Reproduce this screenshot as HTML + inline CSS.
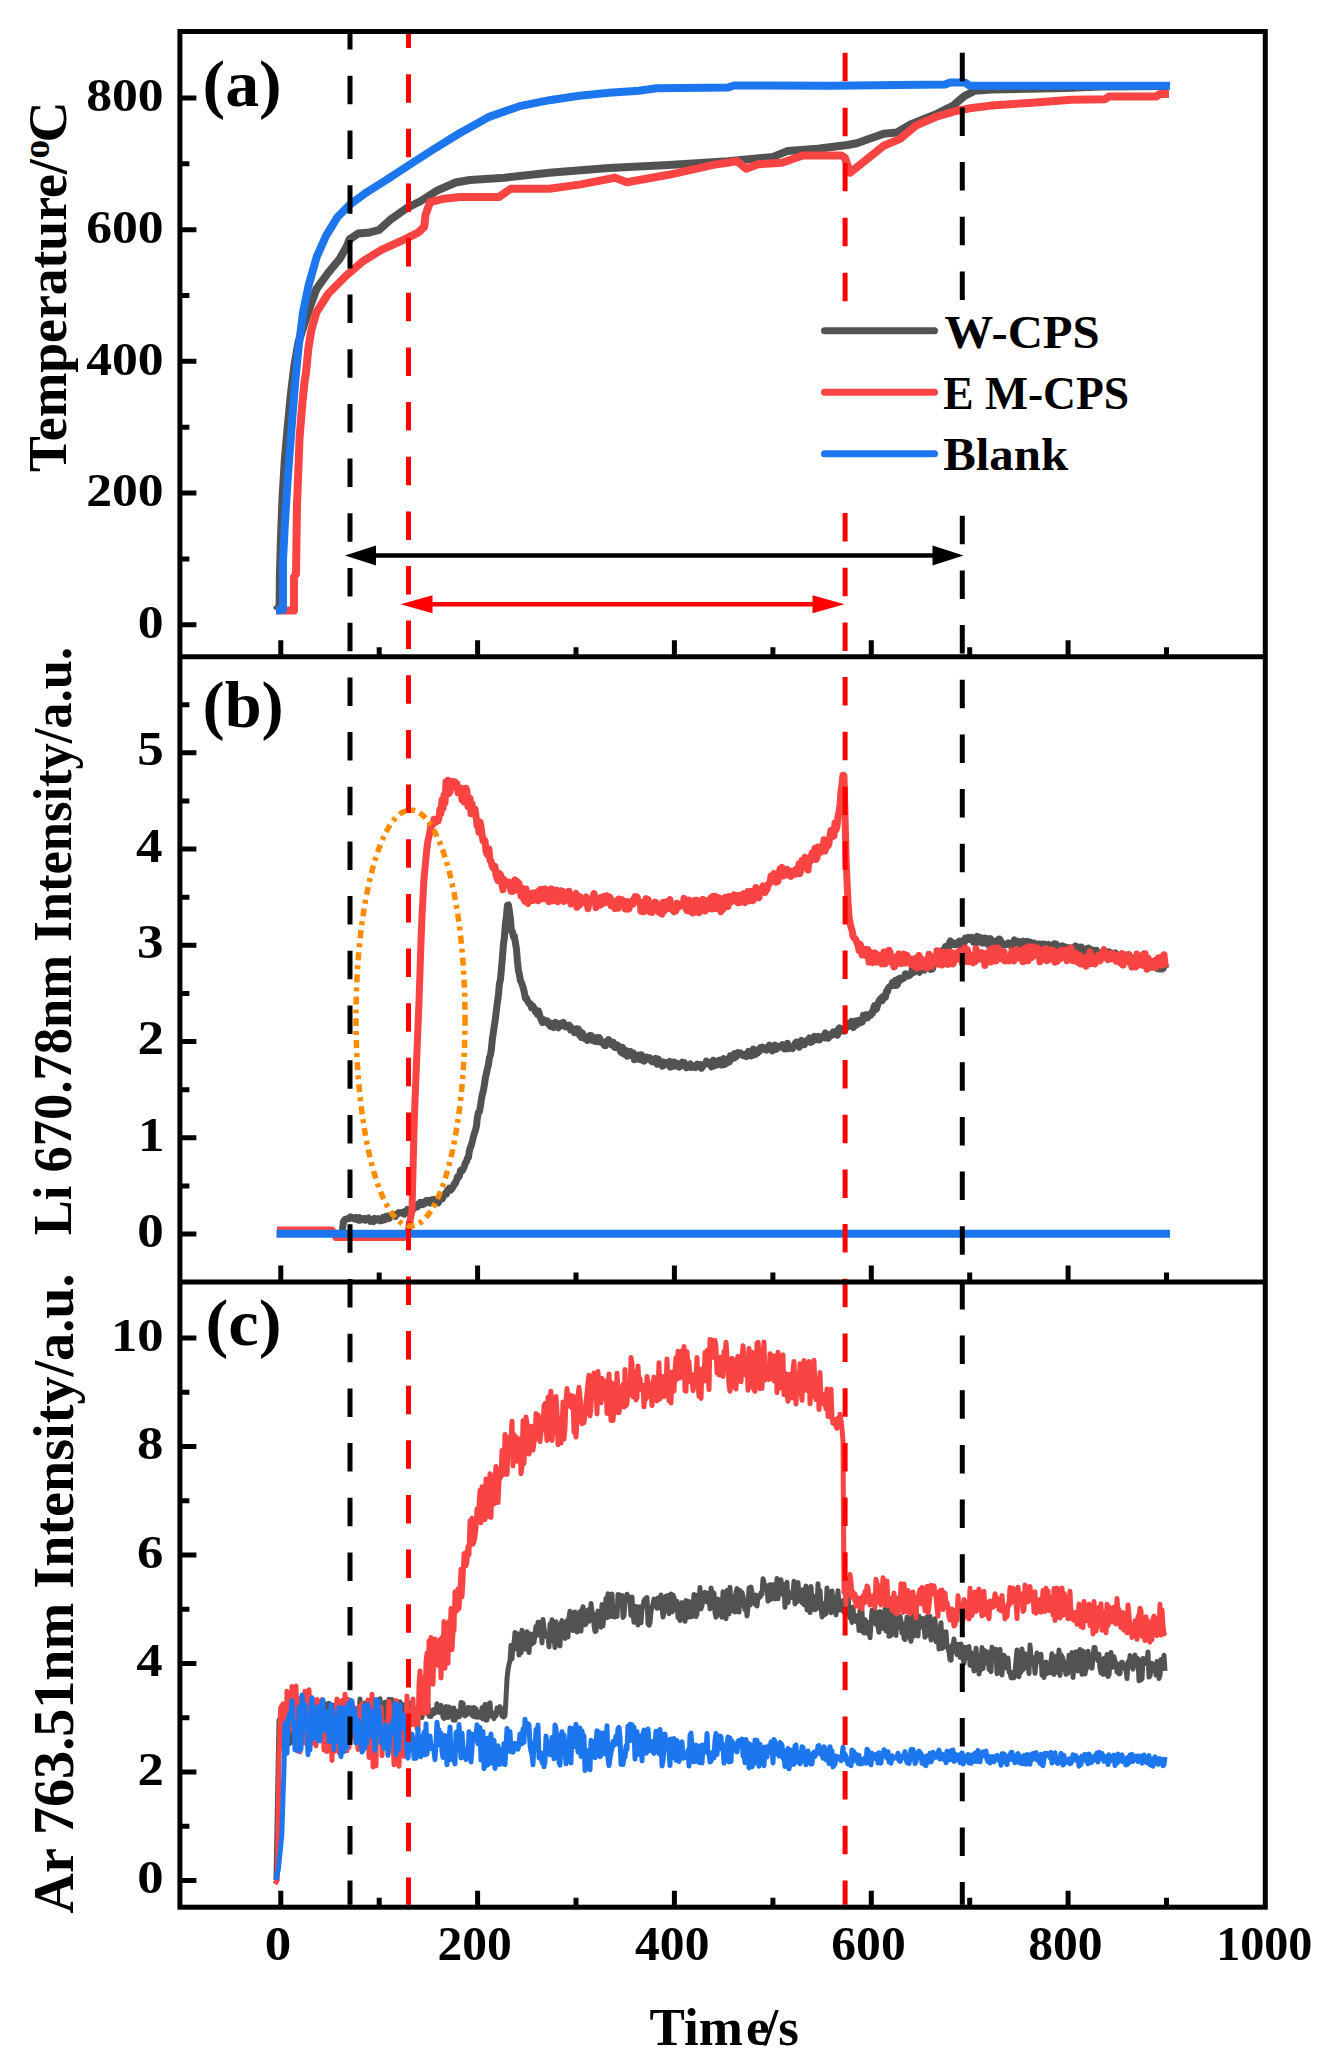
<!DOCTYPE html><html><head><meta charset="utf-8"><style>html,body{margin:0;padding:0;background:#fff}svg{display:block}</style></head><body>
<svg width="1342" height="2070" viewBox="0 0 1342 2070">
<rect width="1342" height="2070" fill="#fff"/>
<defs><clipPath id="ca"><rect x="182" y="34" width="1081" height="620"/></clipPath><clipPath id="cb"><rect x="182" y="659" width="1081" height="620"/></clipPath><clipPath id="cc"><rect x="182" y="1284" width="1081" height="621"/></clipPath></defs>
<g clip-path="url(#ca)">
<path d="M276.0 610.5 L279.6 606.0 L279.9 576.0 L280.9 540.0 L282.4 500.0 L284.8 460.0 L287.6 428.0 L290.8 395.0 L294.3 366.0 L298.5 342.0 L304.0 325.0 L310.6 305.0 L316.4 289.2 L328.0 273.0 L339.6 259.0 L347.0 246.0 L349.5 239.3 L358.2 233.5 L369.8 232.4 L379.0 230.0 L390.6 219.6 L406.9 208.0 L420.8 201.0 L437.0 190.6 L455.6 182.5 L470.0 180.0 L504.7 177.7 L549.4 172.7 L609.0 167.9 L668.6 164.9 L728.3 161.3 L773.0 156.9 L787.9 150.9 L817.7 148.8 L847.5 145.0 L856.8 143.2 L883.6 133.8 L897.0 132.4 L910.5 124.4 L937.3 113.6 L953.4 105.6 L964.1 96.2 L974.8 90.8 L991.0 89.5 L1066.0 88.0 L1100.0 86.5 L1168.0 86.0" fill="none" stroke="#525252" stroke-width="8" stroke-linejoin="round"/>
<path d="M276.0 610.5 L294.0 610.5 L294.0 577.0 L296.0 574.0 L297.0 505.0 L299.6 437.0 L302.5 402.0 L304.5 382.0 L306.0 373.0 L308.4 348.0 L311.4 330.0 L316.4 312.4 L328.0 294.0 L346.6 275.3 L362.8 261.4 L381.4 249.8 L404.6 239.3 L418.5 232.4 L424.3 226.6 L425.5 215.0 L430.0 202.2 L444.0 198.7 L460.0 197.1 L498.7 197.1 L510.7 188.8 L549.4 188.8 L579.2 184.6 L615.0 177.7 L626.9 182.2 L668.6 174.8 L713.4 164.9 L737.2 161.3 L746.1 168.8 L758.0 164.3 L781.9 162.8 L802.8 155.4 L841.5 155.4 L845.0 158.0 L850.1 172.7 L870.2 156.6 L883.6 145.8 L899.7 139.1 L915.8 125.7 L937.3 116.3 L956.0 111.0 L969.5 108.3 L991.0 105.6 L1028.5 102.9 L1071.4 99.7 L1105.0 99.2 L1109.0 96.5 L1156.0 96.5 L1160.0 94.0 L1169.0 94.0" fill="none" stroke="#fa4444" stroke-width="8" stroke-linejoin="round"/>
<path d="M276.0 610.5 L283.0 609.7 L283.0 560.0 L285.0 521.0 L288.0 474.8 L291.5 428.4 L295.2 382.0 L298.6 347.2 L303.0 312.4 L308.8 284.6 L316.8 256.7 L326.0 235.8 L337.3 217.3 L350.0 204.5 L367.4 191.8 L386.0 180.2 L409.2 165.0 L432.4 150.0 L460.0 133.0 L489.8 116.6 L519.6 106.2 L549.4 100.2 L579.2 95.8 L609.0 92.8 L638.8 90.7 L656.7 88.3 L728.3 87.4 L734.2 85.5 L830.0 85.8 L945.0 84.5 L950.0 82.5 L965.0 82.5 L970.0 85.8 L1170.0 85.8" fill="none" stroke="#1c76ee" stroke-width="8" stroke-linejoin="round"/>
</g>
<g clip-path="url(#cb)">
<path d="M277.0 1233.6 L342.0 1233.6 L343.4 1222.0 L343.4 1223.0 L344.4 1220.2 L345.4 1219.2 L346.4 1219.1 L347.4 1218.8 L348.4 1218.2 L349.4 1218.6 L350.4 1216.8 L351.4 1217.6 L352.4 1217.6 L353.4 1218.4 L354.4 1218.8 L355.4 1219.2 L356.4 1217.5 L357.4 1218.8 L358.4 1220.0 L359.4 1217.6 L360.4 1220.1 L361.4 1219.9 L362.4 1218.9 L363.4 1219.1 L364.4 1218.4 L365.4 1220.2 L366.4 1219.4 L367.4 1218.7 L368.4 1218.0 L369.4 1219.2 L370.4 1221.4 L371.4 1220.6 L372.4 1220.5 L373.4 1221.6 L374.4 1218.4 L375.4 1220.6 L376.4 1219.1 L377.4 1219.7 L378.4 1218.6 L379.4 1219.0 L380.4 1220.8 L381.4 1220.0 L382.4 1220.3 L383.4 1217.3 L384.4 1217.9 L385.4 1219.5 L386.4 1216.4 L387.4 1216.6 L388.4 1215.9 L389.4 1218.3 L390.4 1215.8 L391.4 1216.2 L392.4 1214.3 L393.4 1214.4 L394.4 1215.7 L395.4 1216.4 L396.4 1214.5 L397.4 1214.1 L398.4 1212.8 L399.4 1212.8 L400.4 1212.7 L401.4 1212.5 L402.4 1213.4 L403.4 1212.2 L404.4 1214.1 L405.4 1211.0 L406.4 1212.8 L407.4 1209.4 L408.4 1210.6 L409.4 1210.2 L410.4 1210.2 L411.4 1208.7 L412.4 1208.7 L413.4 1209.2 L414.4 1206.2 L415.4 1207.1 L416.4 1206.8 L417.4 1207.0 L418.4 1204.0 L419.4 1204.4 L420.4 1202.3 L421.4 1204.4 L422.4 1204.7 L423.4 1202.3 L424.4 1203.8 L425.4 1203.1 L426.4 1200.5 L427.4 1202.3 L428.4 1200.4 L429.4 1201.3 L430.4 1203.0 L431.4 1200.1 L432.4 1201.7 L433.4 1199.5 L434.4 1199.5 L435.4 1202.9 L436.4 1199.4 L437.4 1199.7 L438.4 1202.8 L439.4 1200.2 L440.4 1199.8 L441.4 1198.3 L442.4 1198.6 L443.4 1195.4 L444.4 1194.7 L445.4 1193.3 L446.4 1194.1 L447.4 1190.3 L448.4 1190.7 L449.4 1188.2 L450.4 1190.3 L451.4 1189.3 L452.4 1187.9 L453.4 1186.4 L454.4 1183.4 L455.4 1183.5 L456.4 1180.6 L457.4 1176.8 L458.4 1177.4 L459.4 1176.1 L460.4 1170.8 L461.4 1169.8 L462.4 1170.5 L463.4 1168.8 L464.4 1166.3 L465.4 1162.8 L466.4 1161.7 L467.4 1158.1 L468.4 1157.5 L469.4 1150.6 L470.4 1147.4 L471.4 1144.9 L472.4 1141.0 L473.4 1136.7 L474.4 1133.3 L475.4 1130.4 L476.4 1126.3 L477.4 1117.6 L478.4 1112.3 L479.4 1111.6 L480.4 1106.6 L481.4 1099.1 L482.4 1094.3 L483.4 1090.8 L484.4 1084.5 L485.4 1077.8 L486.4 1073.4 L487.4 1068.6 L488.4 1064.9 L489.4 1057.7 L490.4 1055.2 L491.4 1049.1 L492.4 1038.6 L493.4 1032.2 L494.4 1025.3 L495.4 1018.8 L496.4 1010.3 L497.4 1002.1 L498.4 995.7 L499.4 983.9 L500.4 979.9 L501.4 969.4 L502.4 957.9 L503.4 944.7 L504.4 937.3 L505.4 924.0 L506.4 916.5 L507.4 905.5 L508.4 905.0 L509.4 911.3 L510.4 918.6 L511.4 931.1 L512.4 931.5 L513.4 936.5 L514.4 936.3 L515.4 942.9 L516.4 948.3 L517.4 960.8 L518.4 970.5 L519.4 974.4 L520.4 980.8 L521.4 982.2 L522.4 985.4 L523.4 988.3 L524.4 992.8 L525.4 998.0 L526.4 998.0 L527.4 1000.8 L528.4 1002.4 L529.4 1004.1 L530.4 1003.8 L531.4 1007.6 L532.4 1005.7 L533.4 1006.9 L534.4 1008.7 L535.4 1011.8 L536.4 1011.5 L537.4 1014.3 L538.4 1010.9 L539.4 1014.0 L540.4 1017.8 L541.4 1020.0 L542.4 1022.5 L543.4 1019.5 L544.4 1020.5 L545.4 1021.9 L546.4 1022.5 L547.4 1020.9 L548.4 1023.2 L549.4 1025.3 L550.4 1026.3 L551.4 1023.3 L552.4 1026.3 L553.4 1027.5 L554.4 1023.6 L555.4 1022.4 L556.4 1023.1 L557.4 1026.4 L558.4 1027.7 L559.4 1023.9 L560.4 1023.4 L561.4 1025.8 L562.4 1024.0 L563.4 1022.4 L564.4 1024.1 L565.4 1026.8 L566.4 1026.1 L567.4 1025.7 L568.4 1026.5 L569.4 1025.2 L570.4 1029.9 L571.4 1027.7 L572.4 1030.4 L573.4 1030.0 L574.4 1032.7 L575.4 1032.6 L576.4 1028.7 L577.4 1031.5 L578.4 1029.1 L579.4 1034.8 L580.4 1031.8 L581.4 1037.5 L582.4 1033.0 L583.4 1035.6 L584.4 1036.2 L585.4 1039.1 L586.4 1038.0 L587.4 1040.4 L588.4 1037.0 L589.4 1035.7 L590.4 1036.5 L591.4 1035.7 L592.4 1040.4 L593.4 1040.5 L594.4 1041.1 L595.4 1041.5 L596.4 1037.4 L597.4 1037.4 L598.4 1041.8 L599.4 1037.6 L600.4 1040.3 L601.4 1042.3 L602.4 1043.1 L603.4 1043.0 L604.4 1045.4 L605.4 1045.7 L606.4 1041.3 L607.4 1041.5 L608.4 1039.6 L609.4 1040.4 L610.4 1042.9 L611.4 1044.9 L612.4 1042.7 L613.4 1042.4 L614.4 1047.0 L615.4 1047.5 L616.4 1046.9 L617.4 1045.0 L618.4 1046.0 L619.4 1047.0 L620.4 1051.6 L621.4 1052.6 L622.4 1047.2 L623.4 1053.8 L624.4 1054.2 L625.4 1054.0 L626.4 1050.7 L627.4 1056.2 L628.4 1055.7 L629.4 1051.7 L630.4 1051.5 L631.4 1054.3 L632.4 1056.2 L633.4 1052.9 L634.4 1059.7 L635.4 1058.3 L636.4 1057.7 L637.4 1057.7 L638.4 1055.1 L639.4 1059.6 L640.4 1059.6 L641.4 1054.7 L642.4 1060.1 L643.4 1057.1 L644.4 1061.1 L645.4 1057.5 L646.4 1057.1 L647.4 1057.5 L648.4 1058.9 L649.4 1057.6 L650.4 1058.7 L651.4 1061.2 L652.4 1061.8 L653.4 1061.9 L654.4 1059.0 L655.4 1058.3 L656.4 1059.1 L657.4 1064.3 L658.4 1059.1 L659.4 1063.3 L660.4 1062.9 L661.4 1063.6 L662.4 1066.2 L663.4 1061.9 L664.4 1065.2 L665.4 1064.3 L666.4 1063.3 L667.4 1063.5 L668.4 1062.2 L669.4 1061.5 L670.4 1067.1 L671.4 1065.2 L672.4 1062.0 L673.4 1066.3 L674.4 1062.1 L675.4 1065.3 L676.4 1064.8 L677.4 1066.2 L678.4 1063.5 L679.4 1067.2 L680.4 1065.8 L681.4 1064.2 L682.4 1062.2 L683.4 1063.4 L684.4 1062.8 L685.4 1065.7 L686.4 1067.9 L687.4 1067.4 L688.4 1066.6 L689.4 1065.1 L690.4 1064.0 L691.4 1067.5 L692.4 1066.5 L693.4 1066.4 L694.4 1065.8 L695.4 1067.5 L696.4 1066.2 L697.4 1064.1 L698.4 1064.9 L699.4 1064.6 L700.4 1064.6 L701.4 1068.3 L702.4 1066.7 L703.4 1065.7 L704.4 1064.2 L705.4 1064.1 L706.4 1061.1 L707.4 1063.3 L708.4 1064.0 L709.4 1062.4 L710.4 1063.5 L711.4 1066.8 L712.4 1066.1 L713.4 1060.2 L714.4 1065.8 L715.4 1064.8 L716.4 1064.9 L717.4 1064.8 L718.4 1060.7 L719.4 1060.2 L720.4 1063.6 L721.4 1064.9 L722.4 1059.6 L723.4 1058.6 L724.4 1064.6 L725.4 1064.0 L726.4 1059.3 L727.4 1062.8 L728.4 1058.8 L729.4 1062.0 L730.4 1055.8 L731.4 1059.3 L732.4 1056.2 L733.4 1058.4 L734.4 1053.7 L735.4 1057.4 L736.4 1053.4 L737.4 1055.5 L738.4 1052.7 L739.4 1054.7 L740.4 1052.9 L741.4 1053.8 L742.4 1054.6 L743.4 1055.7 L744.4 1055.4 L745.4 1054.5 L746.4 1056.6 L747.4 1053.5 L748.4 1051.5 L749.4 1055.1 L750.4 1052.4 L751.4 1056.0 L752.4 1051.9 L753.4 1049.0 L754.4 1050.8 L755.4 1054.6 L756.4 1051.0 L757.4 1053.1 L758.4 1049.9 L759.4 1051.3 L760.4 1047.5 L761.4 1048.2 L762.4 1047.3 L763.4 1049.2 L764.4 1048.4 L765.4 1049.8 L766.4 1050.2 L767.4 1047.1 L768.4 1047.1 L769.4 1045.2 L770.4 1045.6 L771.4 1047.4 L772.4 1051.0 L773.4 1046.3 L774.4 1047.8 L775.4 1045.2 L776.4 1049.2 L777.4 1048.2 L778.4 1047.2 L779.4 1047.2 L780.4 1046.1 L781.4 1046.6 L782.4 1044.7 L783.4 1047.9 L784.4 1049.1 L785.4 1049.1 L786.4 1045.5 L787.4 1043.3 L788.4 1048.6 L789.4 1046.5 L790.4 1047.1 L791.4 1047.8 L792.4 1048.6 L793.4 1046.2 L794.4 1045.4 L795.4 1043.0 L796.4 1042.0 L797.4 1042.5 L798.4 1042.1 L799.4 1047.2 L800.4 1044.3 L801.4 1040.3 L802.4 1041.9 L803.4 1042.2 L804.4 1044.7 L805.4 1041.5 L806.4 1042.1 L807.4 1039.9 L808.4 1040.0 L809.4 1038.0 L810.4 1042.5 L811.4 1040.2 L812.4 1041.5 L813.4 1040.0 L814.4 1036.3 L815.4 1037.1 L816.4 1037.0 L817.4 1039.7 L818.4 1036.3 L819.4 1040.0 L820.4 1038.7 L821.4 1037.8 L822.4 1036.5 L823.4 1037.4 L824.4 1034.8 L825.4 1033.0 L826.4 1038.0 L827.4 1035.0 L828.4 1038.1 L829.4 1036.3 L830.4 1034.9 L831.4 1033.7 L832.4 1035.2 L833.4 1031.9 L834.4 1032.2 L835.4 1031.6 L836.4 1034.6 L837.4 1035.1 L838.4 1028.9 L839.4 1027.9 L840.4 1029.5 L841.4 1031.1 L842.4 1028.8 L843.4 1030.3 L844.4 1031.1 L845.4 1028.4 L846.4 1027.8 L847.4 1023.6 L848.4 1026.3 L849.4 1026.2 L850.4 1023.0 L851.4 1021.5 L852.4 1025.7 L853.4 1027.5 L854.4 1024.8 L855.4 1021.2 L856.4 1025.1 L857.4 1020.8 L858.4 1020.3 L859.4 1022.9 L860.4 1022.2 L861.4 1022.5 L862.4 1021.8 L863.4 1015.4 L864.4 1016.3 L865.4 1017.8 L866.4 1014.5 L867.4 1017.9 L868.4 1016.2 L869.4 1015.2 L870.4 1015.5 L871.4 1012.8 L872.4 1013.5 L873.4 1009.0 L874.4 1005.7 L875.4 1007.2 L876.4 1009.3 L877.4 1006.0 L878.4 1002.8 L879.4 1000.0 L880.4 999.1 L881.4 997.8 L882.4 1000.6 L883.4 996.3 L884.4 995.4 L885.4 997.4 L886.4 991.4 L887.4 991.9 L888.4 988.2 L889.4 986.8 L890.4 986.3 L891.4 985.7 L892.4 982.7 L893.4 985.5 L894.4 984.2 L895.4 980.4 L896.4 985.5 L897.4 984.6 L898.4 978.8 L899.4 978.3 L900.4 980.4 L901.4 977.9 L902.4 977.7 L903.4 978.4 L904.4 977.7 L905.4 973.7 L906.4 974.6 L907.4 976.1 L908.4 976.0 L909.4 975.4 L910.4 974.6 L911.4 973.2 L912.4 968.4 L913.4 970.3 L914.4 972.2 L915.4 968.5 L916.4 966.8 L917.4 970.0 L918.4 970.9 L919.4 972.2 L920.4 970.1 L921.4 967.9 L922.4 964.8 L923.4 968.9 L924.4 970.1 L925.4 967.5 L926.4 967.8 L927.4 964.6 L928.4 966.1 L929.4 967.9 L930.4 969.3 L931.4 966.1 L932.4 969.0 L933.4 965.9 L934.4 964.2 L935.4 960.2 L936.4 962.1 L937.4 956.8 L938.4 957.2 L939.4 959.1 L940.4 957.7 L941.4 957.0 L942.4 950.6 L943.4 954.1 L944.4 949.9 L945.4 946.6 L946.4 950.3 L947.4 949.5 L948.4 948.4 L949.4 943.0 L950.4 940.9 L951.4 944.5 L952.4 942.9 L953.4 944.4 L954.4 943.1 L955.4 944.8 L956.4 943.2 L957.4 943.8 L958.4 944.5 L959.4 941.2 L960.4 944.5 L961.4 941.0 L962.4 944.7 L963.4 941.8 L964.4 942.4 L965.4 938.0 L966.4 940.2 L967.4 939.5 L968.4 937.5 L969.4 939.3 L970.4 938.7 L971.4 937.5 L972.4 938.3 L973.4 942.2 L974.4 937.7 L975.4 941.0 L976.4 943.0 L977.4 936.4 L978.4 941.2 L979.4 937.3 L980.4 937.7 L981.4 938.8 L982.4 943.1 L983.4 943.1 L984.4 938.0 L985.4 942.9 L986.4 938.4 L987.4 940.4 L988.4 944.7 L989.4 943.9 L990.4 938.6 L991.4 941.6 L992.4 940.6 L993.4 942.2 L994.4 943.4 L995.4 941.6 L996.4 944.3 L997.4 944.3 L998.4 939.5 L999.4 939.0 L1000.4 940.2 L1001.4 942.5 L1002.4 944.0 L1003.4 945.2 L1004.4 944.6 L1005.4 944.2 L1006.4 944.0 L1007.4 944.5 L1008.4 943.0 L1009.4 944.6 L1010.4 945.7 L1011.4 945.6 L1012.4 944.6 L1013.4 944.1 L1014.4 939.9 L1015.4 941.5 L1016.4 942.6 L1017.4 941.8 L1018.4 941.3 L1019.4 942.8 L1020.4 946.1 L1021.4 942.5 L1022.4 947.3 L1023.4 941.1 L1024.4 944.0 L1025.4 946.1 L1026.4 946.3 L1027.4 941.4 L1028.4 942.1 L1029.4 941.9 L1030.4 945.5 L1031.4 942.5 L1032.4 944.8 L1033.4 944.2 L1034.4 943.3 L1035.4 945.3 L1036.4 946.0 L1037.4 947.1 L1038.4 945.7 L1039.4 944.0 L1040.4 945.9 L1041.4 948.5 L1042.4 944.0 L1043.4 947.7 L1044.4 944.1 L1045.4 949.8 L1046.4 945.2 L1047.4 947.4 L1048.4 944.3 L1049.4 947.3 L1050.4 948.9 L1051.4 949.8 L1052.4 948.9 L1053.4 949.7 L1054.4 943.7 L1055.4 949.2 L1056.4 944.1 L1057.4 949.7 L1058.4 950.9 L1059.4 949.3 L1060.4 948.8 L1061.4 950.0 L1062.4 945.9 L1063.4 951.5 L1064.4 946.6 L1065.4 947.4 L1066.4 947.4 L1067.4 950.1 L1068.4 947.9 L1069.4 947.6 L1070.4 948.2 L1071.4 949.8 L1072.4 950.6 L1073.4 950.9 L1074.4 947.4 L1075.4 946.0 L1076.4 946.6 L1077.4 947.0 L1078.4 951.5 L1079.4 947.2 L1080.4 951.9 L1081.4 947.0 L1082.4 951.8 L1083.4 949.0 L1084.4 951.9 L1085.4 952.8 L1086.4 952.2 L1087.4 948.3 L1088.4 948.0 L1089.4 950.6 L1090.4 954.2 L1091.4 951.3 L1092.4 950.0 L1093.4 951.7 L1094.4 954.4 L1095.4 950.6 L1096.4 950.3 L1097.4 956.1 L1098.4 953.0 L1099.4 953.5 L1100.4 952.7 L1101.4 952.3 L1102.4 956.6 L1103.4 956.3 L1104.4 952.7 L1105.4 956.0 L1106.4 957.4 L1107.4 954.0 L1108.4 957.9 L1109.4 951.9 L1110.4 957.1 L1111.4 957.2 L1112.4 953.2 L1113.4 953.4 L1114.4 953.6 L1115.4 952.9 L1116.4 957.7 L1117.4 957.1 L1118.4 957.9 L1119.4 957.3 L1120.4 955.0 L1121.4 954.2 L1122.4 955.7 L1123.4 959.7 L1124.4 954.8 L1125.4 958.7 L1126.4 957.6 L1127.4 957.8 L1128.4 958.2 L1129.4 960.1 L1130.4 957.4 L1131.4 957.5 L1132.4 962.3 L1133.4 961.8 L1134.4 959.3 L1135.4 958.7 L1136.4 961.2 L1137.4 963.7 L1138.4 962.9 L1139.4 960.7 L1140.4 962.2 L1141.4 960.5 L1142.4 963.3 L1143.4 962.4 L1144.4 959.5 L1145.4 964.3 L1146.4 966.0 L1147.4 963.8 L1148.4 962.0 L1149.4 963.2 L1150.4 962.6 L1151.4 967.2 L1152.4 966.7 L1153.4 963.9 L1154.4 964.0 L1155.4 962.7 L1156.4 965.0 L1157.4 968.7 L1158.4 967.4 L1159.4 968.7 L1160.4 963.0 L1161.4 968.9 L1162.4 969.0 L1163.4 968.1 L1164.4 963.3 L1165.4 968.2" fill="none" stroke="#525252" stroke-width="7" stroke-linejoin="round"/>
<path d="M277.0 1230.0 L332.0 1230.0 L336.0 1237.5 L405.0 1237.5 L405.0 1237.0 L406.0 1235.4 L407.0 1234.0 L408.0 1231.7 L409.0 1226.7 L410.0 1220.9 L411.0 1215.6 L412.0 1210.0 L413.0 1170.4 L414.0 1130.8 L415.0 1100.2 L416.0 1075.7 L417.0 1051.1 L418.0 1026.4 L419.0 1001.7 L420.0 972.1 L421.0 941.2 L422.0 916.3 L423.0 897.4 L424.0 878.4 L425.0 868.0 L426.0 857.6 L427.0 847.4 L428.0 840.5 L429.0 836.4 L430.0 831.2 L431.0 824.8 L432.0 825.8 L433.0 824.1 L434.0 819.3 L435.0 819.7 L436.0 822.3 L437.0 819.2 L438.0 821.0 L439.0 817.8 L440.0 809.2 L441.0 813.3 L442.0 799.9 L443.0 808.3 L444.0 795.2 L445.0 802.9 L446.0 782.1 L447.0 793.0 L448.0 780.2 L449.0 793.4 L450.0 791.7 L451.0 785.2 L452.0 786.9 L453.0 781.4 L454.0 784.9 L455.0 781.9 L456.0 787.3 L457.0 783.7 L458.0 792.8 L459.0 790.5 L460.0 788.3 L461.0 788.3 L462.0 799.9 L463.0 800.6 L464.0 802.0 L465.0 792.2 L466.0 788.2 L467.0 791.5 L468.0 806.4 L469.0 799.6 L470.0 798.1 L471.0 813.8 L472.0 803.5 L473.0 811.1 L474.0 810.9 L475.0 809.1 L476.0 815.9 L477.0 825.5 L478.0 824.5 L479.0 832.4 L480.0 822.0 L481.0 826.4 L482.0 834.4 L483.0 840.8 L484.0 839.9 L485.0 840.5 L486.0 851.2 L487.0 854.3 L488.0 853.9 L489.0 849.0 L490.0 860.4 L491.0 861.0 L492.0 865.5 L493.0 867.8 L494.0 867.2 L495.0 866.5 L496.0 874.9 L497.0 878.2 L498.0 880.6 L499.0 873.3 L500.0 874.0 L501.0 875.8 L502.0 884.9 L503.0 889.7 L504.0 879.4 L505.0 882.6 L506.0 884.1 L507.0 882.4 L508.0 884.5 L509.0 882.1 L510.0 885.3 L511.0 891.2 L512.0 888.3 L513.0 891.3 L514.0 883.7 L515.0 879.9 L516.0 880.8 L517.0 881.4 L518.0 890.2 L519.0 883.3 L520.0 889.5 L521.0 896.1 L522.0 890.1 L523.0 888.7 L524.0 899.4 L525.0 901.4 L526.0 889.0 L527.0 900.5 L528.0 903.4 L529.0 894.3 L530.0 895.9 L531.0 893.5 L532.0 893.2 L533.0 900.6 L534.0 895.2 L535.0 892.7 L536.0 892.8 L537.0 900.0 L538.0 900.7 L539.0 890.6 L540.0 889.6 L541.0 889.4 L542.0 896.5 L543.0 898.8 L544.0 889.3 L545.0 888.8 L546.0 892.2 L547.0 899.6 L548.0 900.0 L549.0 901.7 L550.0 894.2 L551.0 889.0 L552.0 889.2 L553.0 900.7 L554.0 895.0 L555.0 891.8 L556.0 893.1 L557.0 890.2 L558.0 901.8 L559.0 894.5 L560.0 895.1 L561.0 890.7 L562.0 895.3 L563.0 891.4 L564.0 901.4 L565.0 900.3 L566.0 898.2 L567.0 896.7 L568.0 899.8 L569.0 891.2 L570.0 895.9 L571.0 904.1 L572.0 903.5 L573.0 897.4 L574.0 898.6 L575.0 895.2 L576.0 893.4 L577.0 907.3 L578.0 896.5 L579.0 905.6 L580.0 896.8 L581.0 901.2 L582.0 903.0 L583.0 898.3 L584.0 900.2 L585.0 898.6 L586.0 897.0 L587.0 902.6 L588.0 908.7 L589.0 899.2 L590.0 901.6 L591.0 900.4 L592.0 901.5 L593.0 896.5 L594.0 893.5 L595.0 897.9 L596.0 907.7 L597.0 902.2 L598.0 900.7 L599.0 898.8 L600.0 905.2 L601.0 897.4 L602.0 904.2 L603.0 902.6 L604.0 896.4 L605.0 902.7 L606.0 900.5 L607.0 895.8 L608.0 902.2 L609.0 898.7 L610.0 897.3 L611.0 905.7 L612.0 903.9 L613.0 901.5 L614.0 906.1 L615.0 908.6 L616.0 901.0 L617.0 903.1 L618.0 908.2 L619.0 898.9 L620.0 901.4 L621.0 901.7 L622.0 899.6 L623.0 903.1 L624.0 907.0 L625.0 908.9 L626.0 902.8 L627.0 901.6 L628.0 909.2 L629.0 908.9 L630.0 902.2 L631.0 904.1 L632.0 900.8 L633.0 904.2 L634.0 899.2 L635.0 896.7 L636.0 899.0 L637.0 896.9 L638.0 900.5 L639.0 901.5 L640.0 901.8 L641.0 911.2 L642.0 909.4 L643.0 902.7 L644.0 911.8 L645.0 905.6 L646.0 898.7 L647.0 905.1 L648.0 899.4 L649.0 902.0 L650.0 911.8 L651.0 905.8 L652.0 912.5 L653.0 904.8 L654.0 903.4 L655.0 902.1 L656.0 902.6 L657.0 910.3 L658.0 908.1 L659.0 912.4 L660.0 907.3 L661.0 913.3 L662.0 914.1 L663.0 902.4 L664.0 911.2 L665.0 902.1 L666.0 905.7 L667.0 901.9 L668.0 908.7 L669.0 900.8 L670.0 899.8 L671.0 908.6 L672.0 908.0 L673.0 910.6 L674.0 911.7 L675.0 909.0 L676.0 910.9 L677.0 903.2 L678.0 905.9 L679.0 906.9 L680.0 904.5 L681.0 905.2 L682.0 905.3 L683.0 905.6 L684.0 898.4 L685.0 899.8 L686.0 909.0 L687.0 910.6 L688.0 901.3 L689.0 900.1 L690.0 902.0 L691.0 911.6 L692.0 905.5 L693.0 913.1 L694.0 906.0 L695.0 900.4 L696.0 909.7 L697.0 900.3 L698.0 908.5 L699.0 912.8 L700.0 909.2 L701.0 910.2 L702.0 904.6 L703.0 899.4 L704.0 901.8 L705.0 911.0 L706.0 910.0 L707.0 906.5 L708.0 900.6 L709.0 904.1 L710.0 908.6 L711.0 897.9 L712.0 908.9 L713.0 896.4 L714.0 906.0 L715.0 896.2 L716.0 908.5 L717.0 901.0 L718.0 904.7 L719.0 897.7 L720.0 907.0 L721.0 911.7 L722.0 901.5 L723.0 909.2 L724.0 899.2 L725.0 897.5 L726.0 906.5 L727.0 900.7 L728.0 906.6 L729.0 896.6 L730.0 897.1 L731.0 899.2 L732.0 901.6 L733.0 897.0 L734.0 894.8 L735.0 895.2 L736.0 899.4 L737.0 895.6 L738.0 902.7 L739.0 895.4 L740.0 902.5 L741.0 899.6 L742.0 894.9 L743.0 894.0 L744.0 901.4 L745.0 902.6 L746.0 894.2 L747.0 899.2 L748.0 891.5 L749.0 896.4 L750.0 900.8 L751.0 891.3 L752.0 894.8 L753.0 900.7 L754.0 891.1 L755.0 898.1 L756.0 887.5 L757.0 890.0 L758.0 896.8 L759.0 897.7 L760.0 889.0 L761.0 890.4 L762.0 888.8 L763.0 885.9 L764.0 886.5 L765.0 892.5 L766.0 887.2 L767.0 889.7 L768.0 884.4 L769.0 884.5 L770.0 881.9 L771.0 876.0 L772.0 879.1 L773.0 876.1 L774.0 873.6 L775.0 873.9 L776.0 882.2 L777.0 881.9 L778.0 881.0 L779.0 873.9 L780.0 869.1 L781.0 869.4 L782.0 867.5 L783.0 876.1 L784.0 874.7 L785.0 873.7 L786.0 869.8 L787.0 869.3 L788.0 873.0 L789.0 875.4 L790.0 873.1 L791.0 876.3 L792.0 871.3 L793.0 874.6 L794.0 871.2 L795.0 870.2 L796.0 874.1 L797.0 868.6 L798.0 873.4 L799.0 864.0 L800.0 873.5 L801.0 869.0 L802.0 860.4 L803.0 866.5 L804.0 859.9 L805.0 857.3 L806.0 858.0 L807.0 862.5 L808.0 870.1 L809.0 858.8 L810.0 861.7 L811.0 858.6 L812.0 853.0 L813.0 858.8 L814.0 852.3 L815.0 848.2 L816.0 859.4 L817.0 857.8 L818.0 847.1 L819.0 851.7 L820.0 848.6 L821.0 852.3 L822.0 846.1 L823.0 850.5 L824.0 839.8 L825.0 851.1 L826.0 847.0 L827.0 841.7 L828.0 846.1 L829.0 843.3 L830.0 835.4 L831.0 830.5 L832.0 836.7 L833.0 831.9 L834.0 836.1 L835.0 823.0 L836.0 829.6 L837.0 826.4 L838.0 816.3 L839.0 812.0 L840.0 804.6 L841.0 791.8 L842.0 783.9 L843.0 775.2 L844.0 775.7 L845.0 815.5 L846.0 855.0 L847.0 881.1 L848.0 901.5 L849.0 916.9 L850.0 922.5 L851.0 927.3 L852.0 930.1 L853.0 936.1 L854.0 937.8 L855.0 938.7 L856.0 939.8 L857.0 942.9 L858.0 945.4 L859.0 950.2 L860.0 944.1 L861.0 947.3 L862.0 954.9 L863.0 954.4 L864.0 951.6 L865.0 955.3 L866.0 949.4 L867.0 951.0 L868.0 949.8 L869.0 962.1 L870.0 952.2 L871.0 956.4 L872.0 956.3 L873.0 962.6 L874.0 953.7 L875.0 952.9 L876.0 955.7 L877.0 962.1 L878.0 959.1 L879.0 955.1 L880.0 958.1 L881.0 957.4 L882.0 963.9 L883.0 963.1 L884.0 951.9 L885.0 963.8 L886.0 952.1 L887.0 956.0 L888.0 955.8 L889.0 950.2 L890.0 951.9 L891.0 962.0 L892.0 961.7 L893.0 963.7 L894.0 966.9 L895.0 966.2 L896.0 956.7 L897.0 961.6 L898.0 961.1 L899.0 953.9 L900.0 961.5 L901.0 963.5 L902.0 958.3 L903.0 961.5 L904.0 954.1 L905.0 963.0 L906.0 955.4 L907.0 955.3 L908.0 959.6 L909.0 960.6 L910.0 958.6 L911.0 964.4 L912.0 963.4 L913.0 960.1 L914.0 965.7 L915.0 958.5 L916.0 958.6 L917.0 967.9 L918.0 957.9 L919.0 955.4 L920.0 966.8 L921.0 964.5 L922.0 959.1 L923.0 966.8 L924.0 964.6 L925.0 960.9 L926.0 961.8 L927.0 968.0 L928.0 961.4 L929.0 954.3 L930.0 959.1 L931.0 956.6 L932.0 966.2 L933.0 957.9 L934.0 956.9 L935.0 962.1 L936.0 961.7 L937.0 950.8 L938.0 960.2 L939.0 964.3 L940.0 959.1 L941.0 954.7 L942.0 964.9 L943.0 951.9 L944.0 958.6 L945.0 954.1 L946.0 959.5 L947.0 957.1 L948.0 964.4 L949.0 952.0 L950.0 957.9 L951.0 955.2 L952.0 952.5 L953.0 963.9 L954.0 961.0 L955.0 956.5 L956.0 959.3 L957.0 958.1 L958.0 952.2 L959.0 955.9 L960.0 950.8 L961.0 951.3 L962.0 962.3 L963.0 960.7 L964.0 952.8 L965.0 948.0 L966.0 961.5 L967.0 949.2 L968.0 952.1 L969.0 961.6 L970.0 957.6 L971.0 955.7 L972.0 961.1 L973.0 962.8 L974.0 957.1 L975.0 961.9 L976.0 948.4 L977.0 954.9 L978.0 957.0 L979.0 959.1 L980.0 954.1 L981.0 957.1 L982.0 952.6 L983.0 960.1 L984.0 958.5 L985.0 965.5 L986.0 959.1 L987.0 953.2 L988.0 961.6 L989.0 955.6 L990.0 949.9 L991.0 961.9 L992.0 954.0 L993.0 948.2 L994.0 949.1 L995.0 950.3 L996.0 960.9 L997.0 959.6 L998.0 948.0 L999.0 958.6 L1000.0 953.3 L1001.0 954.6 L1002.0 959.0 L1003.0 951.8 L1004.0 951.5 L1005.0 961.0 L1006.0 958.5 L1007.0 958.8 L1008.0 957.5 L1009.0 960.9 L1010.0 957.8 L1011.0 957.7 L1012.0 950.8 L1013.0 957.2 L1014.0 960.8 L1015.0 955.3 L1016.0 957.6 L1017.0 949.4 L1018.0 953.9 L1019.0 954.9 L1020.0 958.1 L1021.0 954.9 L1022.0 950.5 L1023.0 961.8 L1024.0 954.0 L1025.0 948.3 L1026.0 959.3 L1027.0 951.9 L1028.0 960.8 L1029.0 946.7 L1030.0 958.0 L1031.0 956.7 L1032.0 957.3 L1033.0 947.0 L1034.0 954.1 L1035.0 954.2 L1036.0 951.1 L1037.0 947.9 L1038.0 956.0 L1039.0 952.3 L1040.0 961.8 L1041.0 950.4 L1042.0 952.9 L1043.0 957.1 L1044.0 949.3 L1045.0 949.7 L1046.0 948.9 L1047.0 960.7 L1048.0 960.0 L1049.0 949.9 L1050.0 952.8 L1051.0 959.0 L1052.0 950.1 L1053.0 950.5 L1054.0 952.9 L1055.0 962.2 L1056.0 954.5 L1057.0 961.6 L1058.0 952.1 L1059.0 958.8 L1060.0 958.9 L1061.0 957.8 L1062.0 950.1 L1063.0 954.0 L1064.0 950.7 L1065.0 951.8 L1066.0 952.0 L1067.0 960.8 L1068.0 949.7 L1069.0 952.9 L1070.0 958.8 L1071.0 948.0 L1072.0 958.6 L1073.0 960.5 L1074.0 956.1 L1075.0 960.8 L1076.0 953.5 L1077.0 958.4 L1078.0 962.5 L1079.0 955.5 L1080.0 955.6 L1081.0 964.0 L1082.0 960.8 L1083.0 958.6 L1084.0 957.6 L1085.0 962.5 L1086.0 966.3 L1087.0 959.1 L1088.0 958.5 L1089.0 959.1 L1090.0 951.9 L1091.0 963.8 L1092.0 962.4 L1093.0 961.0 L1094.0 962.1 L1095.0 963.9 L1096.0 958.3 L1097.0 960.5 L1098.0 955.5 L1099.0 959.9 L1100.0 960.8 L1101.0 959.0 L1102.0 952.9 L1103.0 953.7 L1104.0 949.6 L1105.0 954.9 L1106.0 957.6 L1107.0 954.4 L1108.0 959.6 L1109.0 955.5 L1110.0 957.1 L1111.0 953.2 L1112.0 958.6 L1113.0 954.0 L1114.0 954.2 L1115.0 957.7 L1116.0 961.1 L1117.0 959.4 L1118.0 955.3 L1119.0 960.7 L1120.0 962.7 L1121.0 955.1 L1122.0 953.7 L1123.0 965.0 L1124.0 956.9 L1125.0 960.2 L1126.0 959.1 L1127.0 959.6 L1128.0 956.8 L1129.0 954.5 L1130.0 963.1 L1131.0 963.0 L1132.0 967.1 L1133.0 960.6 L1134.0 965.7 L1135.0 960.0 L1136.0 967.0 L1137.0 954.1 L1138.0 955.8 L1139.0 962.6 L1140.0 956.9 L1141.0 959.7 L1142.0 965.2 L1143.0 955.5 L1144.0 953.8 L1145.0 953.7 L1146.0 963.5 L1147.0 969.1 L1148.0 958.1 L1149.0 962.0 L1150.0 960.6 L1151.0 961.4 L1152.0 966.2 L1153.0 967.0 L1154.0 962.2 L1155.0 960.6 L1156.0 967.3 L1157.0 960.2 L1158.0 958.2 L1159.0 960.9 L1160.0 963.8 L1161.0 957.3 L1162.0 965.1 L1163.0 959.5 L1164.0 954.7 L1165.0 964.5 L1166.0 967.4" fill="none" stroke="#fa4444" stroke-width="7" stroke-linejoin="round"/>
<path d="M276.5 1233.8 L1170.0 1233.8" fill="none" stroke="#1c76ee" stroke-width="8" stroke-linejoin="round"/>
</g>
<g clip-path="url(#cc)">
<path d="M276.0 1880.0 L279.0 1720.0 L285.0 1721.2 L286.0 1740.0 L287.0 1712.4 L288.0 1724.0 L289.0 1743.9 L290.0 1713.4 L291.0 1742.6 L292.0 1712.8 L293.0 1727.0 L294.0 1722.2 L295.0 1728.4 L296.0 1713.4 L297.0 1718.0 L298.0 1729.6 L299.0 1704.4 L300.0 1730.4 L301.0 1705.1 L302.0 1709.3 L303.0 1712.4 L304.0 1724.4 L305.0 1718.3 L306.0 1725.1 L307.0 1711.2 L308.0 1719.1 L309.0 1709.1 L310.0 1712.8 L311.0 1730.3 L312.0 1726.8 L313.0 1723.4 L314.0 1709.0 L315.0 1733.0 L316.0 1711.2 L317.0 1730.9 L318.0 1721.2 L319.0 1736.3 L320.0 1710.9 L321.0 1717.6 L322.0 1706.0 L323.0 1733.7 L324.0 1721.7 L325.0 1711.2 L326.0 1703.9 L327.0 1726.1 L328.0 1709.7 L329.0 1703.3 L330.0 1715.4 L331.0 1713.0 L332.0 1728.8 L333.0 1705.3 L334.0 1729.1 L335.0 1732.2 L336.0 1704.7 L337.0 1723.7 L338.0 1724.4 L339.0 1724.6 L340.0 1727.3 L341.0 1713.6 L342.0 1720.4 L343.0 1719.5 L344.0 1715.9 L345.0 1707.2 L346.0 1721.3 L347.0 1721.8 L348.0 1717.1 L349.0 1728.2 L350.0 1732.2 L351.0 1719.1 L352.0 1713.9 L353.0 1717.0 L354.0 1723.1 L355.0 1708.3 L356.0 1724.4 L357.0 1718.8 L358.0 1719.7 L359.0 1715.9 L360.0 1699.0 L361.0 1716.7 L362.0 1723.1 L363.0 1717.7 L364.0 1723.9 L365.0 1702.9 L366.0 1713.3 L367.0 1722.3 L368.0 1730.1 L369.0 1704.1 L370.0 1708.0 L371.0 1708.8 L372.0 1709.0 L373.0 1721.0 L374.0 1713.4 L375.0 1729.0 L376.0 1721.1 L377.0 1721.0 L378.0 1726.8 L379.0 1724.8 L380.0 1698.7 L381.0 1710.2 L382.0 1716.1 L383.0 1717.4 L384.0 1721.4 L385.0 1702.3 L386.0 1709.7 L387.0 1719.4 L388.0 1702.3 L389.0 1699.2 L390.0 1707.8 L391.0 1702.4 L392.0 1699.6 L393.0 1706.6 L394.0 1710.8 L395.0 1710.6 L396.0 1713.9 L397.0 1703.9 L398.0 1704.4 L399.0 1715.6 L400.0 1701.8 L401.0 1711.5 L402.0 1704.3 L403.0 1715.5 L404.0 1705.1 L405.0 1716.8 L406.0 1706.9 L407.0 1717.2 L408.0 1711.5 L409.0 1713.3 L410.0 1703.0 L411.0 1710.4 L412.0 1710.7 L413.0 1706.8 L414.0 1709.9 L415.0 1710.1 L416.0 1715.8 L417.0 1719.0 L418.0 1716.5 L419.0 1710.6 L420.0 1703.4 L421.0 1712.1 L422.0 1717.5 L423.0 1704.2 L424.0 1702.4 L425.0 1703.0 L426.0 1701.6 L427.0 1709.1 L428.0 1704.1 L429.0 1716.1 L430.0 1716.5 L431.0 1716.5 L432.0 1711.1 L433.0 1709.8 L434.0 1713.6 L435.0 1709.3 L436.0 1712.1 L437.0 1703.7 L438.0 1712.1 L439.0 1712.4 L440.0 1706.3 L441.0 1705.4 L442.0 1709.5 L443.0 1717.1 L444.0 1718.4 L445.0 1713.3 L446.0 1706.6 L447.0 1707.0 L448.0 1717.6 L449.0 1706.9 L450.0 1713.0 L451.0 1715.5 L452.0 1708.5 L453.0 1719.9 L454.0 1708.0 L455.0 1720.2 L456.0 1714.9 L457.0 1711.5 L458.0 1711.9 L459.0 1716.9 L460.0 1715.9 L461.0 1702.6 L462.0 1707.8 L463.0 1703.1 L464.0 1710.6 L465.0 1716.0 L466.0 1711.1 L467.0 1714.6 L468.0 1707.5 L469.0 1707.8 L470.0 1709.5 L471.0 1707.8 L472.0 1715.2 L473.0 1716.0 L474.0 1707.6 L475.0 1716.8 L476.0 1708.8 L477.0 1717.3 L478.0 1715.3 L479.0 1712.2 L480.0 1717.0 L481.0 1717.6 L482.0 1707.8 L483.0 1719.1 L484.0 1709.5 L485.0 1704.5 L486.0 1720.2 L487.0 1720.0 L488.0 1714.2 L489.0 1703.6 L490.0 1702.9 L491.0 1715.9 L492.0 1714.3 L493.0 1716.8 L494.0 1718.7 L495.0 1712.9 L496.0 1715.9 L497.0 1708.1 L498.0 1708.6 L499.0 1712.0 L500.0 1706.6 L501.0 1712.3 L502.0 1716.0 L503.0 1709.1 L504.0 1717.1 L505.0 1715.4 L506.0 1698.4 L507.0 1679.0 L508.0 1669.8 L509.0 1664.3 L510.0 1661.3 L511.0 1645.6 L512.0 1658.7 L513.0 1644.6 L514.0 1643.7 L515.0 1632.5 L516.0 1648.8 L517.0 1635.0 L518.0 1633.8 L519.0 1655.1 L520.0 1638.2 L521.0 1652.9 L522.0 1630.2 L523.0 1644.0 L524.0 1647.9 L525.0 1649.1 L526.0 1641.3 L527.0 1631.8 L528.0 1642.6 L529.0 1652.5 L530.0 1634.0 L531.0 1636.8 L532.0 1644.1 L533.0 1633.9 L534.0 1642.4 L535.0 1634.7 L536.0 1626.4 L537.0 1635.4 L538.0 1622.2 L539.0 1622.3 L540.0 1632.5 L541.0 1629.3 L542.0 1642.9 L543.0 1619.6 L544.0 1628.1 L545.0 1635.9 L546.0 1634.8 L547.0 1636.3 L548.0 1635.0 L549.0 1646.8 L550.0 1624.1 L551.0 1632.7 L552.0 1619.8 L553.0 1641.0 L554.0 1634.6 L555.0 1647.5 L556.0 1621.8 L557.0 1634.9 L558.0 1626.9 L559.0 1631.0 L560.0 1645.9 L561.0 1624.1 L562.0 1620.6 L563.0 1628.3 L564.0 1623.8 L565.0 1638.4 L566.0 1635.5 L567.0 1620.7 L568.0 1637.1 L569.0 1617.5 L570.0 1611.2 L571.0 1613.3 L572.0 1624.5 L573.0 1630.5 L574.0 1628.9 L575.0 1612.0 L576.0 1619.1 L577.0 1632.1 L578.0 1626.5 L579.0 1630.6 L580.0 1611.6 L581.0 1631.0 L582.0 1611.4 L583.0 1606.8 L584.0 1620.1 L585.0 1624.9 L586.0 1624.1 L587.0 1619.4 L588.0 1609.9 L589.0 1621.3 L590.0 1618.2 L591.0 1603.6 L592.0 1611.3 L593.0 1614.7 L594.0 1624.8 L595.0 1631.5 L596.0 1631.1 L597.0 1618.1 L598.0 1611.1 L599.0 1625.8 L600.0 1623.5 L601.0 1627.1 L602.0 1604.5 L603.0 1625.8 L604.0 1612.2 L605.0 1612.3 L606.0 1598.4 L607.0 1617.8 L608.0 1593.7 L609.0 1609.8 L610.0 1616.5 L611.0 1612.2 L612.0 1593.9 L613.0 1616.7 L614.0 1612.0 L615.0 1617.0 L616.0 1611.5 L617.0 1616.4 L618.0 1594.6 L619.0 1594.8 L620.0 1596.0 L621.0 1604.5 L622.0 1595.5 L623.0 1617.5 L624.0 1615.4 L625.0 1600.5 L626.0 1597.9 L627.0 1594.2 L628.0 1596.4 L629.0 1599.7 L630.0 1602.2 L631.0 1615.2 L632.0 1597.0 L633.0 1613.4 L634.0 1622.3 L635.0 1606.3 L636.0 1618.2 L637.0 1606.7 L638.0 1624.9 L639.0 1611.9 L640.0 1606.9 L641.0 1622.7 L642.0 1609.4 L643.0 1606.0 L644.0 1600.7 L645.0 1599.0 L646.0 1605.7 L647.0 1597.6 L648.0 1623.7 L649.0 1625.2 L650.0 1622.8 L651.0 1611.4 L652.0 1606.8 L653.0 1604.2 L654.0 1599.0 L655.0 1602.9 L656.0 1602.9 L657.0 1608.2 L658.0 1598.1 L659.0 1607.7 L660.0 1606.3 L661.0 1594.9 L662.0 1607.6 L663.0 1616.9 L664.0 1612.1 L665.0 1605.4 L666.0 1596.3 L667.0 1610.2 L668.0 1595.5 L669.0 1613.7 L670.0 1596.3 L671.0 1594.0 L672.0 1611.9 L673.0 1595.0 L674.0 1597.3 L675.0 1610.1 L676.0 1600.9 L677.0 1601.5 L678.0 1617.5 L679.0 1616.4 L680.0 1620.5 L681.0 1607.8 L682.0 1602.6 L683.0 1609.3 L684.0 1604.2 L685.0 1621.3 L686.0 1600.4 L687.0 1617.6 L688.0 1616.7 L689.0 1601.6 L690.0 1617.0 L691.0 1614.6 L692.0 1616.5 L693.0 1606.9 L694.0 1594.4 L695.0 1603.5 L696.0 1616.5 L697.0 1613.9 L698.0 1595.0 L699.0 1605.5 L700.0 1587.5 L701.0 1608.9 L702.0 1605.4 L703.0 1600.2 L704.0 1597.3 L705.0 1592.3 L706.0 1596.6 L707.0 1601.9 L708.0 1601.4 L709.0 1592.9 L710.0 1608.8 L711.0 1587.9 L712.0 1592.6 L713.0 1596.1 L714.0 1593.1 L715.0 1612.6 L716.0 1617.1 L717.0 1602.9 L718.0 1599.1 L719.0 1614.7 L720.0 1612.2 L721.0 1609.0 L722.0 1617.2 L723.0 1591.8 L724.0 1607.4 L725.0 1597.7 L726.0 1618.7 L727.0 1590.6 L728.0 1614.1 L729.0 1614.0 L730.0 1587.2 L731.0 1611.0 L732.0 1598.6 L733.0 1609.4 L734.0 1596.6 L735.0 1612.1 L736.0 1592.2 L737.0 1588.6 L738.0 1601.8 L739.0 1612.1 L740.0 1590.6 L741.0 1604.3 L742.0 1592.4 L743.0 1596.3 L744.0 1604.3 L745.0 1609.7 L746.0 1602.2 L747.0 1616.0 L748.0 1607.2 L749.0 1588.1 L750.0 1605.0 L751.0 1587.1 L752.0 1592.8 L753.0 1601.1 L754.0 1596.8 L755.0 1604.1 L756.0 1594.9 L757.0 1605.9 L758.0 1597.3 L759.0 1597.5 L760.0 1597.2 L761.0 1592.9 L762.0 1594.2 L763.0 1578.8 L764.0 1583.4 L765.0 1588.7 L766.0 1586.5 L767.0 1585.8 L768.0 1601.2 L769.0 1593.4 L770.0 1584.7 L771.0 1599.3 L772.0 1584.7 L773.0 1588.1 L774.0 1584.9 L775.0 1598.9 L776.0 1593.4 L777.0 1578.4 L778.0 1598.8 L779.0 1582.7 L780.0 1584.8 L781.0 1579.8 L782.0 1594.2 L783.0 1593.4 L784.0 1584.7 L785.0 1607.3 L786.0 1589.8 L787.0 1582.3 L788.0 1602.6 L789.0 1594.4 L790.0 1593.2 L791.0 1597.5 L792.0 1593.8 L793.0 1592.8 L794.0 1581.3 L795.0 1604.0 L796.0 1596.8 L797.0 1601.9 L798.0 1582.5 L799.0 1595.1 L800.0 1591.4 L801.0 1597.1 L802.0 1602.5 L803.0 1589.8 L804.0 1604.7 L805.0 1604.0 L806.0 1585.9 L807.0 1610.0 L808.0 1603.6 L809.0 1593.5 L810.0 1612.6 L811.0 1586.6 L812.0 1601.7 L813.0 1609.3 L814.0 1604.8 L815.0 1609.7 L816.0 1596.2 L817.0 1608.3 L818.0 1583.7 L819.0 1608.2 L820.0 1590.6 L821.0 1605.4 L822.0 1616.9 L823.0 1603.5 L824.0 1615.1 L825.0 1609.5 L826.0 1613.7 L827.0 1587.9 L828.0 1601.5 L829.0 1605.7 L830.0 1607.2 L831.0 1612.8 L832.0 1590.9 L833.0 1601.7 L834.0 1605.1 L835.0 1599.0 L836.0 1614.9 L837.0 1603.0 L838.0 1590.7 L839.0 1607.2 L840.0 1609.9 L841.0 1608.2 L842.0 1601.7 L843.0 1600.7 L844.0 1612.3 L845.0 1608.3 L846.0 1609.4 L847.0 1613.8 L848.0 1593.5 L849.0 1612.2 L850.0 1617.8 L851.0 1615.1 L852.0 1622.4 L853.0 1607.3 L854.0 1619.3 L855.0 1620.8 L856.0 1621.5 L857.0 1615.8 L858.0 1616.1 L859.0 1630.5 L860.0 1610.6 L861.0 1614.5 L862.0 1611.0 L863.0 1632.1 L864.0 1632.8 L865.0 1619.5 L866.0 1621.8 L867.0 1633.2 L868.0 1628.7 L869.0 1622.4 L870.0 1637.7 L871.0 1624.3 L872.0 1610.3 L873.0 1617.3 L874.0 1616.7 L875.0 1610.5 L876.0 1624.4 L877.0 1622.1 L878.0 1626.4 L879.0 1632.3 L880.0 1611.5 L881.0 1613.9 L882.0 1624.9 L883.0 1628.3 L884.0 1627.2 L885.0 1608.8 L886.0 1630.9 L887.0 1615.1 L888.0 1610.0 L889.0 1636.3 L890.0 1610.9 L891.0 1635.4 L892.0 1613.6 L893.0 1613.2 L894.0 1634.0 L895.0 1628.7 L896.0 1635.5 L897.0 1608.4 L898.0 1627.8 L899.0 1620.7 L900.0 1616.3 L901.0 1621.1 L902.0 1633.0 L903.0 1623.9 L904.0 1638.5 L905.0 1639.5 L906.0 1630.5 L907.0 1617.1 L908.0 1618.2 L909.0 1629.4 L910.0 1637.1 L911.0 1641.3 L912.0 1632.1 L913.0 1610.0 L914.0 1635.9 L915.0 1625.8 L916.0 1612.0 L917.0 1629.0 L918.0 1636.0 L919.0 1616.3 L920.0 1625.2 L921.0 1626.8 L922.0 1626.1 L923.0 1618.6 L924.0 1625.3 L925.0 1637.2 L926.0 1627.1 L927.0 1616.7 L928.0 1629.5 L929.0 1635.6 L930.0 1616.3 L931.0 1639.9 L932.0 1629.0 L933.0 1621.7 L934.0 1622.4 L935.0 1618.7 L936.0 1641.8 L937.0 1641.6 L938.0 1630.8 L939.0 1649.0 L940.0 1627.8 L941.0 1622.7 L942.0 1648.4 L943.0 1647.7 L944.0 1632.0 L945.0 1637.4 L946.0 1631.7 L947.0 1647.2 L948.0 1647.8 L949.0 1652.1 L950.0 1659.7 L951.0 1660.2 L952.0 1645.2 L953.0 1647.2 L954.0 1639.1 L955.0 1651.6 L956.0 1645.6 L957.0 1654.5 L958.0 1644.3 L959.0 1647.3 L960.0 1657.2 L961.0 1643.9 L962.0 1647.8 L963.0 1658.6 L964.0 1663.1 L965.0 1647.3 L966.0 1656.0 L967.0 1657.5 L968.0 1656.3 L969.0 1646.6 L970.0 1665.0 L971.0 1665.6 L972.0 1652.9 L973.0 1662.0 L974.0 1671.1 L975.0 1669.2 L976.0 1648.3 L977.0 1657.9 L978.0 1655.4 L979.0 1674.0 L980.0 1668.6 L981.0 1669.6 L982.0 1647.5 L983.0 1668.5 L984.0 1650.3 L985.0 1651.1 L986.0 1658.9 L987.0 1662.8 L988.0 1652.0 L989.0 1669.4 L990.0 1665.2 L991.0 1671.7 L992.0 1647.2 L993.0 1657.6 L994.0 1655.4 L995.0 1657.1 L996.0 1649.3 L997.0 1673.7 L998.0 1651.7 L999.0 1650.4 L1000.0 1649.5 L1001.0 1672.4 L1002.0 1674.9 L1003.0 1659.1 L1004.0 1655.4 L1005.0 1658.2 L1006.0 1662.8 L1007.0 1668.2 L1008.0 1658.1 L1009.0 1672.0 L1010.0 1671.9 L1011.0 1677.6 L1012.0 1677.9 L1013.0 1672.2 L1014.0 1677.7 L1015.0 1672.7 L1016.0 1661.0 L1017.0 1650.1 L1018.0 1655.5 L1019.0 1676.7 L1020.0 1668.3 L1021.0 1672.1 L1022.0 1649.1 L1023.0 1669.7 L1024.0 1654.2 L1025.0 1653.8 L1026.0 1657.2 L1027.0 1668.1 L1028.0 1664.8 L1029.0 1673.4 L1030.0 1645.0 L1031.0 1658.0 L1032.0 1663.7 L1033.0 1659.1 L1034.0 1657.8 L1035.0 1673.3 L1036.0 1662.7 L1037.0 1653.0 L1038.0 1660.6 L1039.0 1661.6 L1040.0 1659.0 L1041.0 1654.3 L1042.0 1675.1 L1043.0 1670.2 L1044.0 1677.4 L1045.0 1668.3 L1046.0 1661.9 L1047.0 1673.4 L1048.0 1663.6 L1049.0 1672.0 L1050.0 1672.6 L1051.0 1661.3 L1052.0 1653.8 L1053.0 1658.1 L1054.0 1674.4 L1055.0 1661.3 L1056.0 1660.9 L1057.0 1656.1 L1058.0 1672.4 L1059.0 1650.1 L1060.0 1675.4 L1061.0 1654.9 L1062.0 1656.5 L1063.0 1658.9 L1064.0 1663.8 L1065.0 1668.9 L1066.0 1674.3 L1067.0 1667.0 L1068.0 1673.2 L1069.0 1655.2 L1070.0 1670.8 L1071.0 1668.7 L1072.0 1652.6 L1073.0 1677.5 L1074.0 1665.5 L1075.0 1660.8 L1076.0 1651.8 L1077.0 1661.1 L1078.0 1671.0 L1079.0 1666.9 L1080.0 1649.4 L1081.0 1656.3 L1082.0 1674.3 L1083.0 1650.9 L1084.0 1666.5 L1085.0 1674.0 L1086.0 1669.0 L1087.0 1668.1 L1088.0 1651.2 L1089.0 1658.8 L1090.0 1657.9 L1091.0 1657.6 L1092.0 1668.3 L1093.0 1657.4 L1094.0 1647.5 L1095.0 1647.6 L1096.0 1657.0 L1097.0 1656.6 L1098.0 1660.6 L1099.0 1654.1 L1100.0 1668.7 L1101.0 1673.0 L1102.0 1672.6 L1103.0 1674.3 L1104.0 1658.5 L1105.0 1661.2 L1106.0 1674.3 L1107.0 1654.5 L1108.0 1676.4 L1109.0 1674.7 L1110.0 1660.6 L1111.0 1652.4 L1112.0 1667.4 L1113.0 1657.4 L1114.0 1656.8 L1115.0 1662.2 L1116.0 1662.5 L1117.0 1672.0 L1118.0 1670.2 L1119.0 1673.9 L1120.0 1673.6 L1121.0 1663.1 L1122.0 1662.1 L1123.0 1663.5 L1124.0 1668.1 L1125.0 1667.4 L1126.0 1669.2 L1127.0 1678.6 L1128.0 1661.8 L1129.0 1667.0 L1130.0 1655.6 L1131.0 1665.9 L1132.0 1665.6 L1133.0 1669.1 L1134.0 1663.3 L1135.0 1655.0 L1136.0 1661.9 L1137.0 1660.5 L1138.0 1658.7 L1139.0 1680.8 L1140.0 1673.5 L1141.0 1679.7 L1142.0 1678.9 L1143.0 1658.6 L1144.0 1658.7 L1145.0 1663.5 L1146.0 1660.1 L1147.0 1661.2 L1148.0 1652.1 L1149.0 1677.1 L1150.0 1676.0 L1151.0 1668.6 L1152.0 1663.4 L1153.0 1670.4 L1154.0 1669.0 L1155.0 1664.6 L1156.0 1674.9 L1157.0 1661.5 L1158.0 1664.9 L1159.0 1678.5 L1160.0 1675.5 L1161.0 1659.5 L1162.0 1662.3 L1163.0 1666.6 L1164.0 1655.2 L1165.0 1670.9" fill="none" stroke="#525252" stroke-width="5" stroke-linejoin="round"/>
<path d="M275.0 1884.0 L277.3 1880.0 L279.0 1760.0 L280.6 1708.0 L283.0 1703.9 L284.0 1748.3 L285.0 1733.0 L286.0 1743.8 L287.0 1691.3 L288.0 1719.8 L289.0 1731.5 L290.0 1699.7 L291.0 1721.9 L292.0 1686.5 L293.0 1729.7 L294.0 1726.4 L295.0 1729.3 L296.0 1686.1 L297.0 1722.0 L298.0 1708.4 L299.0 1698.5 L300.0 1752.0 L301.0 1718.3 L302.0 1730.9 L303.0 1715.2 L304.0 1743.0 L305.0 1691.2 L306.0 1714.1 L307.0 1729.6 L308.0 1691.8 L309.0 1689.8 L310.0 1714.5 L311.0 1717.9 L312.0 1743.3 L313.0 1728.2 L314.0 1700.5 L315.0 1708.5 L316.0 1745.9 L317.0 1699.4 L318.0 1711.4 L319.0 1711.9 L320.0 1731.8 L321.0 1739.9 L322.0 1699.7 L323.0 1719.6 L324.0 1750.0 L325.0 1735.3 L326.0 1750.9 L327.0 1751.4 L328.0 1729.2 L329.0 1712.3 L330.0 1716.4 L331.0 1732.5 L332.0 1760.5 L333.0 1715.7 L334.0 1751.7 L335.0 1713.9 L336.0 1712.3 L337.0 1699.0 L338.0 1723.1 L339.0 1752.6 L340.0 1724.4 L341.0 1738.7 L342.0 1700.4 L343.0 1716.2 L344.0 1730.9 L345.0 1694.3 L346.0 1713.1 L347.0 1750.8 L348.0 1699.2 L349.0 1747.6 L350.0 1736.3 L351.0 1706.8 L352.0 1702.6 L353.0 1737.1 L354.0 1728.5 L355.0 1711.5 L356.0 1743.2 L357.0 1723.3 L358.0 1749.5 L359.0 1706.4 L360.0 1712.3 L361.0 1740.8 L362.0 1704.1 L363.0 1737.4 L364.0 1739.4 L365.0 1731.2 L366.0 1728.1 L367.0 1747.9 L368.0 1699.9 L369.0 1757.5 L370.0 1752.7 L371.0 1717.2 L372.0 1694.2 L373.0 1767.0 L374.0 1761.1 L375.0 1742.5 L376.0 1766.0 L377.0 1707.2 L378.0 1717.5 L379.0 1723.4 L380.0 1706.7 L381.0 1707.1 L382.0 1755.7 L383.0 1730.7 L384.0 1723.2 L385.0 1723.1 L386.0 1743.8 L387.0 1743.8 L388.0 1722.0 L389.0 1701.4 L390.0 1717.6 L391.0 1716.5 L392.0 1708.3 L393.0 1737.9 L394.0 1764.7 L395.0 1738.3 L396.0 1700.5 L397.0 1706.6 L398.0 1763.2 L399.0 1766.1 L400.0 1723.1 L401.0 1728.4 L402.0 1714.9 L403.0 1742.3 L404.0 1756.4 L405.0 1731.3 L406.0 1735.9 L407.0 1695.9 L408.0 1736.7 L409.0 1723.2 L410.0 1712.8 L411.0 1714.3 L412.0 1724.4 L413.0 1699.0 L414.0 1724.5 L415.0 1713.0 L416.0 1713.6 L417.0 1728.5 L418.0 1728.7 L419.0 1685.0 L420.0 1671.0 L421.0 1710.0 L422.0 1712.7 L423.0 1677.3 L424.0 1684.2 L425.0 1713.6 L426.0 1661.1 L427.0 1653.2 L428.0 1711.8 L429.0 1641.1 L430.0 1652.9 L431.0 1637.4 L432.0 1667.7 L433.0 1684.2 L434.0 1647.7 L435.0 1639.1 L436.0 1664.3 L437.0 1640.4 L438.0 1665.4 L439.0 1653.3 L440.0 1639.6 L441.0 1678.0 L442.0 1637.6 L443.0 1655.5 L444.0 1621.4 L445.0 1668.2 L446.0 1626.6 L447.0 1649.0 L448.0 1663.3 L449.0 1621.4 L450.0 1643.0 L451.0 1608.6 L452.0 1649.7 L453.0 1632.4 L454.0 1630.3 L455.0 1591.7 L456.0 1604.6 L457.0 1610.9 L458.0 1589.0 L459.0 1608.6 L460.0 1593.1 L461.0 1569.2 L462.0 1596.8 L463.0 1579.8 L464.0 1553.8 L465.0 1553.1 L466.0 1565.8 L467.0 1560.7 L468.0 1546.5 L469.0 1554.8 L470.0 1520.9 L471.0 1527.3 L472.0 1518.3 L473.0 1544.2 L474.0 1541.6 L475.0 1536.5 L476.0 1528.2 L477.0 1509.0 L478.0 1513.3 L479.0 1506.1 L480.0 1490.3 L481.0 1522.8 L482.0 1486.8 L483.0 1492.8 L484.0 1514.9 L485.0 1519.6 L486.0 1479.0 L487.0 1511.9 L488.0 1483.6 L489.0 1516.6 L490.0 1473.7 L491.0 1517.5 L492.0 1479.4 L493.0 1476.4 L494.0 1504.0 L495.0 1477.1 L496.0 1466.6 L497.0 1472.1 L498.0 1502.6 L499.0 1481.5 L500.0 1476.4 L501.0 1476.9 L502.0 1450.4 L503.0 1470.2 L504.0 1474.3 L505.0 1434.4 L506.0 1440.2 L507.0 1474.5 L508.0 1450.5 L509.0 1437.1 L510.0 1453.3 L511.0 1440.5 L512.0 1421.2 L513.0 1465.9 L514.0 1434.6 L515.0 1441.6 L516.0 1437.2 L517.0 1461.3 L518.0 1439.2 L519.0 1438.8 L520.0 1445.8 L521.0 1473.7 L522.0 1467.2 L523.0 1420.7 L524.0 1463.3 L525.0 1443.3 L526.0 1417.1 L527.0 1423.9 L528.0 1439.0 L529.0 1454.1 L530.0 1447.8 L531.0 1426.2 L532.0 1434.4 L533.0 1450.1 L534.0 1441.6 L535.0 1439.6 L536.0 1413.6 L537.0 1418.0 L538.0 1414.9 L539.0 1418.3 L540.0 1441.6 L541.0 1432.6 L542.0 1427.8 L543.0 1429.2 L544.0 1406.1 L545.0 1403.7 L546.0 1424.6 L547.0 1440.6 L548.0 1397.2 L549.0 1413.9 L550.0 1397.7 L551.0 1391.2 L552.0 1440.4 L553.0 1430.9 L554.0 1433.4 L555.0 1426.3 L556.0 1396.6 L557.0 1411.6 L558.0 1444.7 L559.0 1417.9 L560.0 1430.1 L561.0 1443.1 L562.0 1430.1 L563.0 1402.0 L564.0 1439.0 L565.0 1428.4 L566.0 1400.6 L567.0 1388.6 L568.0 1402.0 L569.0 1405.9 L570.0 1395.1 L571.0 1402.9 L572.0 1407.9 L573.0 1396.0 L574.0 1432.5 L575.0 1420.0 L576.0 1437.1 L577.0 1420.1 L578.0 1395.6 L579.0 1387.3 L580.0 1397.2 L581.0 1408.9 L582.0 1423.7 L583.0 1419.1 L584.0 1422.7 L585.0 1414.4 L586.0 1401.4 L587.0 1393.4 L588.0 1382.7 L589.0 1375.2 L590.0 1415.7 L591.0 1407.1 L592.0 1387.9 L593.0 1379.3 L594.0 1373.1 L595.0 1395.1 L596.0 1382.8 L597.0 1413.9 L598.0 1371.6 L599.0 1393.6 L600.0 1392.2 L601.0 1402.8 L602.0 1378.3 L603.0 1398.7 L604.0 1380.7 L605.0 1388.7 L606.0 1380.9 L607.0 1413.6 L608.0 1398.8 L609.0 1374.1 L610.0 1399.9 L611.0 1420.6 L612.0 1383.1 L613.0 1420.5 L614.0 1410.2 L615.0 1413.1 L616.0 1411.4 L617.0 1373.2 L618.0 1391.9 L619.0 1412.8 L620.0 1404.6 L621.0 1406.4 L622.0 1398.0 L623.0 1384.5 L624.0 1407.1 L625.0 1369.4 L626.0 1405.8 L627.0 1403.7 L628.0 1384.6 L629.0 1389.4 L630.0 1394.9 L631.0 1357.6 L632.0 1364.0 L633.0 1396.7 L634.0 1371.5 L635.0 1379.4 L636.0 1400.0 L637.0 1397.3 L638.0 1366.1 L639.0 1385.6 L640.0 1378.4 L641.0 1389.8 L642.0 1386.8 L643.0 1385.3 L644.0 1406.8 L645.0 1390.8 L646.0 1398.8 L647.0 1376.6 L648.0 1381.7 L649.0 1389.8 L650.0 1396.7 L651.0 1387.4 L652.0 1405.6 L653.0 1383.8 L654.0 1377.1 L655.0 1377.9 L656.0 1384.2 L657.0 1401.0 L658.0 1392.7 L659.0 1362.8 L660.0 1398.9 L661.0 1392.4 L662.0 1381.2 L663.0 1376.5 L664.0 1396.6 L665.0 1388.2 L666.0 1386.6 L667.0 1358.9 L668.0 1385.6 L669.0 1400.8 L670.0 1377.3 L671.0 1402.9 L672.0 1371.9 L673.0 1373.0 L674.0 1391.1 L675.0 1370.6 L676.0 1357.8 L677.0 1379.3 L678.0 1351.3 L679.0 1351.7 L680.0 1377.9 L681.0 1372.9 L682.0 1350.8 L683.0 1366.6 L684.0 1346.6 L685.0 1390.8 L686.0 1391.1 L687.0 1351.8 L688.0 1366.6 L689.0 1361.5 L690.0 1381.8 L691.0 1373.9 L692.0 1375.6 L693.0 1390.7 L694.0 1375.0 L695.0 1374.3 L696.0 1381.7 L697.0 1357.5 L698.0 1385.3 L699.0 1396.4 L700.0 1381.5 L701.0 1398.4 L702.0 1369.0 L703.0 1370.3 L704.0 1381.2 L705.0 1352.5 L706.0 1374.4 L707.0 1350.4 L708.0 1373.4 L709.0 1389.6 L710.0 1339.4 L711.0 1356.2 L712.0 1340.0 L713.0 1357.3 L714.0 1357.4 L715.0 1340.5 L716.0 1348.0 L717.0 1373.0 L718.0 1365.3 L719.0 1375.0 L720.0 1357.2 L721.0 1374.9 L722.0 1370.4 L723.0 1376.5 L724.0 1351.4 L725.0 1362.5 L726.0 1342.2 L727.0 1356.1 L728.0 1366.8 L729.0 1384.8 L730.0 1391.2 L731.0 1382.7 L732.0 1358.3 L733.0 1363.8 L734.0 1381.0 L735.0 1387.6 L736.0 1388.9 L737.0 1359.1 L738.0 1356.3 L739.0 1377.3 L740.0 1364.5 L741.0 1381.8 L742.0 1360.8 L743.0 1345.8 L744.0 1357.9 L745.0 1365.9 L746.0 1375.3 L747.0 1358.8 L748.0 1390.3 L749.0 1348.6 L750.0 1362.3 L751.0 1353.2 L752.0 1352.4 L753.0 1387.6 L754.0 1389.8 L755.0 1391.2 L756.0 1370.2 L757.0 1343.1 L758.0 1342.3 L759.0 1352.1 L760.0 1388.7 L761.0 1356.8 L762.0 1388.4 L763.0 1359.3 L764.0 1341.9 L765.0 1380.0 L766.0 1377.2 L767.0 1370.8 L768.0 1370.3 L769.0 1379.4 L770.0 1353.7 L771.0 1363.8 L772.0 1367.8 L773.0 1355.4 L774.0 1380.9 L775.0 1377.0 L776.0 1356.2 L777.0 1392.7 L778.0 1352.3 L779.0 1367.1 L780.0 1357.8 L781.0 1388.1 L782.0 1359.7 L783.0 1354.9 L784.0 1394.7 L785.0 1372.9 L786.0 1393.8 L787.0 1393.4 L788.0 1401.2 L789.0 1374.3 L790.0 1397.4 L791.0 1382.8 L792.0 1398.1 L793.0 1370.1 L794.0 1361.4 L795.0 1389.0 L796.0 1403.9 L797.0 1373.4 L798.0 1386.8 L799.0 1388.6 L800.0 1363.7 L801.0 1391.8 L802.0 1400.3 L803.0 1375.8 L804.0 1360.5 L805.0 1377.2 L806.0 1381.0 L807.0 1390.5 L808.0 1368.7 L809.0 1361.5 L810.0 1403.8 L811.0 1386.0 L812.0 1379.0 L813.0 1396.3 L814.0 1360.3 L815.0 1390.1 L816.0 1399.5 L817.0 1378.6 L818.0 1381.0 L819.0 1409.6 L820.0 1372.5 L821.0 1399.0 L822.0 1393.8 L823.0 1395.6 L824.0 1404.2 L825.0 1402.7 L826.0 1408.9 L827.0 1389.0 L828.0 1416.5 L829.0 1402.1 L830.0 1392.8 L831.0 1389.2 L832.0 1416.9 L833.0 1423.3 L834.0 1421.6 L835.0 1419.7 L836.0 1426.6 L837.0 1428.3 L838.0 1418.2 L839.0 1425.1 L840.0 1414.3 L841.0 1420.7 L842.0 1428.9 L843.0 1441.1 L844.0 1592.4 L845.0 1586.9 L846.0 1604.5 L847.0 1579.2 L848.0 1595.3 L849.0 1592.5 L850.0 1574.5 L851.0 1581.8 L852.0 1597.0 L853.0 1592.0 L854.0 1599.3 L855.0 1593.9 L856.0 1606.2 L857.0 1599.6 L858.0 1598.2 L859.0 1606.1 L860.0 1606.0 L861.0 1598.1 L862.0 1609.0 L863.0 1596.1 L864.0 1603.2 L865.0 1591.6 L866.0 1601.4 L867.0 1585.9 L868.0 1588.1 L869.0 1597.0 L870.0 1604.9 L871.0 1602.7 L872.0 1603.6 L873.0 1595.8 L874.0 1605.0 L875.0 1607.7 L876.0 1579.3 L877.0 1583.7 L878.0 1585.1 L879.0 1590.5 L880.0 1602.8 L881.0 1605.0 L882.0 1596.7 L883.0 1577.7 L884.0 1589.0 L885.0 1599.6 L886.0 1605.6 L887.0 1581.1 L888.0 1605.6 L889.0 1603.5 L890.0 1603.3 L891.0 1598.4 L892.0 1610.1 L893.0 1602.3 L894.0 1593.1 L895.0 1612.6 L896.0 1597.8 L897.0 1614.1 L898.0 1601.5 L899.0 1609.8 L900.0 1607.0 L901.0 1583.7 L902.0 1586.7 L903.0 1612.5 L904.0 1583.9 L905.0 1596.6 L906.0 1600.1 L907.0 1611.6 L908.0 1590.6 L909.0 1595.4 L910.0 1613.6 L911.0 1600.3 L912.0 1611.7 L913.0 1592.1 L914.0 1610.8 L915.0 1602.6 L916.0 1617.8 L917.0 1599.0 L918.0 1596.9 L919.0 1593.7 L920.0 1589.5 L921.0 1603.8 L922.0 1587.6 L923.0 1592.8 L924.0 1599.0 L925.0 1610.7 L926.0 1588.7 L927.0 1586.4 L928.0 1612.8 L929.0 1606.0 L930.0 1595.0 L931.0 1585.2 L932.0 1593.6 L933.0 1589.5 L934.0 1585.9 L935.0 1594.5 L936.0 1596.5 L937.0 1608.0 L938.0 1616.1 L939.0 1592.1 L940.0 1591.1 L941.0 1590.2 L942.0 1590.1 L943.0 1609.6 L944.0 1605.4 L945.0 1593.1 L946.0 1602.8 L947.0 1602.8 L948.0 1607.1 L949.0 1616.6 L950.0 1619.9 L951.0 1619.5 L952.0 1609.0 L953.0 1617.7 L954.0 1626.1 L955.0 1625.1 L956.0 1609.9 L957.0 1620.3 L958.0 1595.8 L959.0 1606.9 L960.0 1605.7 L961.0 1604.5 L962.0 1607.7 L963.0 1620.0 L964.0 1599.6 L965.0 1602.0 L966.0 1616.4 L967.0 1605.8 L968.0 1606.8 L969.0 1619.0 L970.0 1588.3 L971.0 1603.3 L972.0 1615.5 L973.0 1606.0 L974.0 1600.0 L975.0 1591.9 L976.0 1611.5 L977.0 1609.4 L978.0 1593.3 L979.0 1589.1 L980.0 1607.2 L981.0 1608.4 L982.0 1615.9 L983.0 1610.4 L984.0 1591.3 L985.0 1614.3 L986.0 1601.8 L987.0 1614.9 L988.0 1613.7 L989.0 1618.7 L990.0 1601.0 L991.0 1606.4 L992.0 1605.9 L993.0 1607.2 L994.0 1603.2 L995.0 1593.8 L996.0 1598.8 L997.0 1605.8 L998.0 1598.7 L999.0 1609.5 L1000.0 1601.5 L1001.0 1610.7 L1002.0 1595.4 L1003.0 1607.2 L1004.0 1606.6 L1005.0 1618.9 L1006.0 1612.6 L1007.0 1616.6 L1008.0 1604.6 L1009.0 1605.2 L1010.0 1587.5 L1011.0 1603.1 L1012.0 1601.2 L1013.0 1588.1 L1014.0 1600.0 L1015.0 1601.8 L1016.0 1601.1 L1017.0 1618.6 L1018.0 1587.2 L1019.0 1601.7 L1020.0 1593.6 L1021.0 1593.7 L1022.0 1596.4 L1023.0 1611.4 L1024.0 1609.8 L1025.0 1585.1 L1026.0 1589.1 L1027.0 1599.1 L1028.0 1601.9 L1029.0 1598.5 L1030.0 1586.6 L1031.0 1600.4 L1032.0 1593.7 L1033.0 1594.9 L1034.0 1612.0 L1035.0 1591.7 L1036.0 1613.2 L1037.0 1609.2 L1038.0 1610.9 L1039.0 1601.2 L1040.0 1599.5 L1041.0 1612.2 L1042.0 1607.7 L1043.0 1590.6 L1044.0 1592.6 L1045.0 1611.4 L1046.0 1588.2 L1047.0 1603.9 L1048.0 1591.1 L1049.0 1610.6 L1050.0 1597.3 L1051.0 1608.3 L1052.0 1599.5 L1053.0 1615.0 L1054.0 1588.5 L1055.0 1620.5 L1056.0 1611.6 L1057.0 1587.9 L1058.0 1590.6 L1059.0 1604.1 L1060.0 1618.1 L1061.0 1599.6 L1062.0 1587.9 L1063.0 1615.2 L1064.0 1593.5 L1065.0 1596.1 L1066.0 1614.4 L1067.0 1608.2 L1068.0 1618.8 L1069.0 1617.5 L1070.0 1591.3 L1071.0 1612.7 L1072.0 1618.8 L1073.0 1612.3 L1074.0 1620.3 L1075.0 1617.9 L1076.0 1612.4 L1077.0 1624.2 L1078.0 1618.5 L1079.0 1604.1 L1080.0 1615.2 L1081.0 1626.5 L1082.0 1618.8 L1083.0 1627.6 L1084.0 1601.5 L1085.0 1606.8 L1086.0 1611.7 L1087.0 1620.8 L1088.0 1608.3 L1089.0 1604.3 L1090.0 1625.6 L1091.0 1617.0 L1092.0 1607.4 L1093.0 1634.0 L1094.0 1601.6 L1095.0 1624.1 L1096.0 1631.0 L1097.0 1625.2 L1098.0 1615.5 L1099.0 1607.3 L1100.0 1621.0 L1101.0 1603.8 L1102.0 1630.3 L1103.0 1616.6 L1104.0 1612.2 L1105.0 1615.0 L1106.0 1632.8 L1107.0 1604.3 L1108.0 1625.6 L1109.0 1606.4 L1110.0 1609.5 L1111.0 1608.3 L1112.0 1622.1 L1113.0 1619.9 L1114.0 1607.2 L1115.0 1614.7 L1116.0 1623.9 L1117.0 1598.4 L1118.0 1611.4 L1119.0 1609.5 L1120.0 1623.9 L1121.0 1627.5 L1122.0 1626.6 L1123.0 1612.4 L1124.0 1630.3 L1125.0 1626.3 L1126.0 1619.5 L1127.0 1632.8 L1128.0 1605.1 L1129.0 1614.8 L1130.0 1629.3 L1131.0 1626.9 L1132.0 1637.4 L1133.0 1635.0 L1134.0 1627.8 L1135.0 1620.8 L1136.0 1621.1 L1137.0 1639.3 L1138.0 1616.4 L1139.0 1616.3 L1140.0 1608.3 L1141.0 1610.8 L1142.0 1636.3 L1143.0 1618.5 L1144.0 1620.7 L1145.0 1640.6 L1146.0 1616.8 L1147.0 1638.8 L1148.0 1621.1 L1149.0 1638.4 L1150.0 1642.1 L1151.0 1628.3 L1152.0 1639.7 L1153.0 1618.9 L1154.0 1616.2 L1155.0 1632.0 L1156.0 1630.1 L1157.0 1635.6 L1158.0 1618.6 L1159.0 1633.9 L1160.0 1604.3 L1161.0 1635.2 L1162.0 1609.8 L1163.0 1625.8 L1164.0 1633.9 L1165.0 1632.0" fill="none" stroke="#fa4444" stroke-width="5" stroke-linejoin="round"/>
<path d="M276.0 1880.0 L278.4 1869.0 L281.8 1835.0 L284.0 1768.0 L285.0 1723.6 L287.0 1753.3 L288.0 1719.0 L289.0 1716.7 L290.0 1713.3 L291.0 1712.2 L292.0 1700.7 L293.0 1721.6 L294.0 1722.6 L295.0 1749.9 L296.0 1739.1 L297.0 1728.1 L298.0 1751.2 L299.0 1707.1 L300.0 1724.3 L301.0 1749.2 L302.0 1695.1 L303.0 1704.6 L304.0 1703.9 L305.0 1705.8 L306.0 1724.7 L307.0 1733.0 L308.0 1754.7 L309.0 1717.8 L310.0 1749.9 L311.0 1705.3 L312.0 1697.8 L313.0 1728.7 L314.0 1737.9 L315.0 1724.5 L316.0 1707.4 L317.0 1718.0 L318.0 1740.6 L319.0 1706.8 L320.0 1740.9 L321.0 1723.7 L322.0 1701.9 L323.0 1699.9 L324.0 1726.6 L325.0 1730.3 L326.0 1728.8 L327.0 1712.3 L328.0 1723.7 L329.0 1741.7 L330.0 1726.8 L331.0 1704.5 L332.0 1737.4 L333.0 1710.0 L334.0 1749.5 L335.0 1718.1 L336.0 1727.0 L337.0 1740.9 L338.0 1731.2 L339.0 1707.3 L340.0 1729.8 L341.0 1756.7 L342.0 1728.9 L343.0 1707.7 L344.0 1751.5 L345.0 1735.1 L346.0 1714.8 L347.0 1747.7 L348.0 1704.3 L349.0 1730.0 L350.0 1705.0 L351.0 1700.5 L352.0 1701.1 L353.0 1722.1 L354.0 1732.4 L355.0 1709.2 L356.0 1743.1 L357.0 1722.4 L358.0 1720.0 L359.0 1730.0 L360.0 1727.3 L361.0 1741.2 L362.0 1752.0 L363.0 1750.4 L364.0 1705.4 L365.0 1748.0 L366.0 1713.1 L367.0 1743.6 L368.0 1704.6 L369.0 1711.8 L370.0 1721.6 L371.0 1711.2 L372.0 1736.4 L373.0 1732.6 L374.0 1732.6 L375.0 1750.5 L376.0 1699.5 L377.0 1725.9 L378.0 1701.2 L379.0 1712.4 L380.0 1720.7 L381.0 1742.4 L382.0 1742.3 L383.0 1732.5 L384.0 1748.3 L385.0 1729.0 L386.0 1724.7 L387.0 1731.3 L388.0 1755.4 L389.0 1747.7 L390.0 1732.1 L391.0 1726.3 L392.0 1728.3 L393.0 1720.6 L394.0 1732.4 L395.0 1703.2 L396.0 1754.5 L397.0 1713.6 L398.0 1714.6 L399.0 1748.9 L400.0 1704.7 L401.0 1728.5 L402.0 1715.8 L403.0 1714.8 L404.0 1717.5 L405.0 1718.6 L406.0 1729.5 L407.0 1753.2 L408.0 1758.1 L409.0 1747.4 L410.0 1734.5 L411.0 1736.8 L412.0 1734.1 L413.0 1738.9 L414.0 1758.4 L415.0 1739.7 L416.0 1758.3 L417.0 1747.8 L418.0 1728.8 L419.0 1746.6 L420.0 1748.0 L421.0 1756.7 L422.0 1737.3 L423.0 1738.3 L424.0 1732.4 L425.0 1754.9 L426.0 1723.7 L427.0 1754.0 L428.0 1742.9 L429.0 1747.6 L430.0 1736.0 L431.0 1748.6 L432.0 1747.1 L433.0 1746.4 L434.0 1751.4 L435.0 1759.6 L436.0 1742.3 L437.0 1722.2 L438.0 1731.7 L439.0 1729.8 L440.0 1745.0 L441.0 1733.2 L442.0 1751.7 L443.0 1757.5 L444.0 1753.8 L445.0 1735.6 L446.0 1747.3 L447.0 1764.8 L448.0 1752.8 L449.0 1742.7 L450.0 1726.9 L451.0 1759.7 L452.0 1752.2 L453.0 1745.2 L454.0 1759.0 L455.0 1763.9 L456.0 1732.5 L457.0 1742.1 L458.0 1749.7 L459.0 1724.6 L460.0 1743.0 L461.0 1757.9 L462.0 1733.3 L463.0 1747.0 L464.0 1751.8 L465.0 1757.2 L466.0 1759.5 L467.0 1753.5 L468.0 1757.8 L469.0 1731.8 L470.0 1736.8 L471.0 1762.0 L472.0 1748.8 L473.0 1734.2 L474.0 1738.1 L475.0 1739.7 L476.0 1735.8 L477.0 1724.8 L478.0 1743.8 L479.0 1739.6 L480.0 1727.5 L481.0 1760.1 L482.0 1734.6 L483.0 1731.7 L484.0 1768.8 L485.0 1762.8 L486.0 1738.4 L487.0 1765.2 L488.0 1764.8 L489.0 1737.8 L490.0 1761.4 L491.0 1734.0 L492.0 1763.2 L493.0 1745.4 L494.0 1740.4 L495.0 1768.4 L496.0 1747.4 L497.0 1756.0 L498.0 1745.8 L499.0 1764.5 L500.0 1761.8 L501.0 1764.0 L502.0 1749.3 L503.0 1759.5 L504.0 1743.4 L505.0 1764.7 L506.0 1747.5 L507.0 1728.5 L508.0 1744.2 L509.0 1751.0 L510.0 1731.5 L511.0 1751.8 L512.0 1749.4 L513.0 1752.2 L514.0 1746.8 L515.0 1743.3 L516.0 1748.6 L517.0 1744.8 L518.0 1749.2 L519.0 1743.9 L520.0 1733.9 L521.0 1736.9 L522.0 1743.8 L523.0 1729.1 L524.0 1742.3 L525.0 1719.3 L526.0 1727.6 L527.0 1731.1 L528.0 1723.8 L529.0 1724.8 L530.0 1744.8 L531.0 1751.3 L532.0 1754.4 L533.0 1764.7 L534.0 1742.4 L535.0 1749.4 L536.0 1729.5 L537.0 1734.2 L538.0 1724.9 L539.0 1757.9 L540.0 1753.9 L541.0 1753.0 L542.0 1762.4 L543.0 1756.9 L544.0 1766.8 L545.0 1761.7 L546.0 1736.1 L547.0 1743.9 L548.0 1742.8 L549.0 1747.1 L550.0 1754.8 L551.0 1748.7 L552.0 1737.4 L553.0 1746.2 L554.0 1758.7 L555.0 1725.1 L556.0 1729.2 L557.0 1738.5 L558.0 1734.7 L559.0 1762.3 L560.0 1765.2 L561.0 1738.5 L562.0 1731.8 L563.0 1746.4 L564.0 1734.9 L565.0 1750.9 L566.0 1763.8 L567.0 1743.1 L568.0 1747.1 L569.0 1749.5 L570.0 1728.0 L571.0 1763.0 L572.0 1728.4 L573.0 1736.0 L574.0 1746.6 L575.0 1743.7 L576.0 1724.3 L577.0 1736.2 L578.0 1752.1 L579.0 1738.9 L580.0 1728.1 L581.0 1756.5 L582.0 1731.1 L583.0 1736.6 L584.0 1736.1 L585.0 1770.6 L586.0 1754.4 L587.0 1750.6 L588.0 1762.2 L589.0 1756.6 L590.0 1769.7 L591.0 1740.3 L592.0 1743.1 L593.0 1752.3 L594.0 1741.5 L595.0 1757.7 L596.0 1744.9 L597.0 1730.8 L598.0 1748.2 L599.0 1732.3 L600.0 1756.8 L601.0 1755.0 L602.0 1754.4 L603.0 1732.9 L604.0 1744.3 L605.0 1732.8 L606.0 1754.1 L607.0 1725.8 L608.0 1758.5 L609.0 1765.6 L610.0 1758.5 L611.0 1752.7 L612.0 1748.5 L613.0 1741.6 L614.0 1745.3 L615.0 1742.3 L616.0 1736.0 L617.0 1744.0 L618.0 1728.6 L619.0 1727.4 L620.0 1737.2 L621.0 1764.4 L622.0 1751.7 L623.0 1764.6 L624.0 1755.9 L625.0 1757.2 L626.0 1746.1 L627.0 1749.5 L628.0 1726.2 L629.0 1728.1 L630.0 1724.2 L631.0 1740.4 L632.0 1724.8 L633.0 1729.5 L634.0 1727.0 L635.0 1759.1 L636.0 1734.3 L637.0 1731.5 L638.0 1754.6 L639.0 1747.4 L640.0 1737.5 L641.0 1736.0 L642.0 1760.8 L643.0 1734.1 L644.0 1730.1 L645.0 1743.3 L646.0 1753.3 L647.0 1752.2 L648.0 1729.1 L649.0 1741.2 L650.0 1745.2 L651.0 1750.6 L652.0 1750.2 L653.0 1741.4 L654.0 1753.5 L655.0 1744.6 L656.0 1731.2 L657.0 1732.8 L658.0 1732.7 L659.0 1753.7 L660.0 1729.5 L661.0 1737.5 L662.0 1765.9 L663.0 1761.0 L664.0 1748.8 L665.0 1734.1 L666.0 1745.1 L667.0 1739.8 L668.0 1741.9 L669.0 1751.6 L670.0 1765.5 L671.0 1738.9 L672.0 1757.8 L673.0 1738.9 L674.0 1738.6 L675.0 1750.9 L676.0 1760.3 L677.0 1740.6 L678.0 1752.1 L679.0 1761.5 L680.0 1750.3 L681.0 1743.6 L682.0 1742.0 L683.0 1758.3 L684.0 1756.4 L685.0 1756.5 L686.0 1757.2 L687.0 1755.7 L688.0 1750.1 L689.0 1766.1 L690.0 1735.5 L691.0 1733.1 L692.0 1747.7 L693.0 1761.7 L694.0 1745.1 L695.0 1761.5 L696.0 1745.0 L697.0 1748.4 L698.0 1755.9 L699.0 1762.5 L700.0 1748.0 L701.0 1745.5 L702.0 1763.1 L703.0 1744.9 L704.0 1752.1 L705.0 1750.0 L706.0 1751.3 L707.0 1733.5 L708.0 1753.4 L709.0 1752.9 L710.0 1762.0 L711.0 1761.2 L712.0 1754.7 L713.0 1752.1 L714.0 1758.0 L715.0 1740.0 L716.0 1733.4 L717.0 1754.5 L718.0 1744.5 L719.0 1744.5 L720.0 1735.9 L721.0 1736.8 L722.0 1749.2 L723.0 1745.3 L724.0 1763.2 L725.0 1751.4 L726.0 1744.4 L727.0 1746.2 L728.0 1737.1 L729.0 1762.0 L730.0 1737.9 L731.0 1761.5 L732.0 1741.1 L733.0 1744.1 L734.0 1748.2 L735.0 1749.8 L736.0 1744.3 L737.0 1752.1 L738.0 1741.1 L739.0 1740.5 L740.0 1740.7 L741.0 1746.2 L742.0 1738.9 L743.0 1756.1 L744.0 1753.6 L745.0 1762.7 L746.0 1739.4 L747.0 1757.3 L748.0 1743.1 L749.0 1767.9 L750.0 1744.2 L751.0 1746.4 L752.0 1766.7 L753.0 1764.9 L754.0 1763.3 L755.0 1740.1 L756.0 1740.8 L757.0 1740.4 L758.0 1754.6 L759.0 1766.2 L760.0 1744.3 L761.0 1749.1 L762.0 1753.8 L763.0 1755.9 L764.0 1765.7 L765.0 1747.1 L766.0 1748.3 L767.0 1756.9 L768.0 1747.8 L769.0 1745.6 L770.0 1751.3 L771.0 1741.9 L772.0 1745.9 L773.0 1762.9 L774.0 1739.4 L775.0 1742.4 L776.0 1753.5 L777.0 1744.6 L778.0 1750.8 L779.0 1756.1 L780.0 1742.6 L781.0 1743.4 L782.0 1745.2 L783.0 1758.3 L784.0 1756.0 L785.0 1766.5 L786.0 1750.8 L787.0 1755.5 L788.0 1748.4 L789.0 1768.8 L790.0 1762.9 L791.0 1762.4 L792.0 1750.0 L793.0 1764.3 L794.0 1764.0 L795.0 1745.9 L796.0 1745.0 L797.0 1761.7 L798.0 1752.8 L799.0 1758.8 L800.0 1763.8 L801.0 1760.6 L802.0 1746.7 L803.0 1747.8 L804.0 1760.9 L805.0 1759.7 L806.0 1764.7 L807.0 1760.9 L808.0 1751.0 L809.0 1757.3 L810.0 1756.8 L811.0 1764.1 L812.0 1764.0 L813.0 1753.6 L814.0 1752.1 L815.0 1756.5 L816.0 1753.2 L817.0 1751.7 L818.0 1746.1 L819.0 1745.6 L820.0 1753.7 L821.0 1751.1 L822.0 1753.5 L823.0 1758.2 L824.0 1746.8 L825.0 1749.0 L826.0 1759.7 L827.0 1750.6 L828.0 1752.2 L829.0 1763.5 L830.0 1746.7 L831.0 1754.1 L832.0 1751.0 L833.0 1767.0 L834.0 1765.4 L835.0 1764.2 L836.0 1756.1 L837.0 1756.7 L838.0 1756.7 L839.0 1758.4 L840.0 1758.9 L841.0 1760.7 L842.0 1756.4 L843.0 1747.3 L844.0 1759.1 L845.0 1754.3 L846.0 1756.4 L847.0 1760.9 L848.0 1763.9 L849.0 1759.9 L850.0 1759.4 L851.0 1765.8 L852.0 1749.9 L853.0 1761.6 L854.0 1751.8 L855.0 1759.1 L856.0 1754.3 L857.0 1755.9 L858.0 1763.2 L859.0 1755.2 L860.0 1764.0 L861.0 1759.8 L862.0 1763.8 L863.0 1759.5 L864.0 1758.9 L865.0 1757.9 L866.0 1763.2 L867.0 1749.3 L868.0 1750.6 L869.0 1752.7 L870.0 1763.3 L871.0 1764.7 L872.0 1753.2 L873.0 1755.3 L874.0 1758.4 L875.0 1755.2 L876.0 1754.7 L877.0 1754.0 L878.0 1763.1 L879.0 1752.8 L880.0 1759.5 L881.0 1763.1 L882.0 1753.3 L883.0 1756.2 L884.0 1749.8 L885.0 1751.1 L886.0 1755.5 L887.0 1758.0 L888.0 1751.7 L889.0 1762.0 L890.0 1756.9 L891.0 1763.2 L892.0 1755.7 L893.0 1757.1 L894.0 1758.3 L895.0 1757.8 L896.0 1756.9 L897.0 1757.9 L898.0 1753.2 L899.0 1760.6 L900.0 1761.3 L901.0 1759.7 L902.0 1756.4 L903.0 1757.1 L904.0 1755.4 L905.0 1751.6 L906.0 1758.5 L907.0 1762.8 L908.0 1757.6 L909.0 1763.5 L910.0 1757.2 L911.0 1749.5 L912.0 1757.8 L913.0 1749.5 L914.0 1754.3 L915.0 1763.6 L916.0 1761.8 L917.0 1755.2 L918.0 1752.7 L919.0 1751.2 L920.0 1752.5 L921.0 1754.0 L922.0 1763.3 L923.0 1756.3 L924.0 1764.1 L925.0 1764.9 L926.0 1765.6 L927.0 1755.9 L928.0 1762.1 L929.0 1760.8 L930.0 1753.3 L931.0 1762.0 L932.0 1759.7 L933.0 1752.3 L934.0 1756.6 L935.0 1754.7 L936.0 1757.2 L937.0 1753.5 L938.0 1752.8 L939.0 1750.2 L940.0 1759.1 L941.0 1754.0 L942.0 1754.0 L943.0 1758.5 L944.0 1759.5 L945.0 1755.1 L946.0 1762.8 L947.0 1751.3 L948.0 1752.4 L949.0 1759.9 L950.0 1754.6 L951.0 1750.9 L952.0 1759.6 L953.0 1750.1 L954.0 1761.4 L955.0 1754.1 L956.0 1760.3 L957.0 1755.5 L958.0 1757.9 L959.0 1754.8 L960.0 1762.5 L961.0 1756.1 L962.0 1752.8 L963.0 1764.1 L964.0 1762.3 L965.0 1756.1 L966.0 1757.7 L967.0 1757.6 L968.0 1754.5 L969.0 1762.9 L970.0 1762.5 L971.0 1763.2 L972.0 1755.0 L973.0 1757.6 L974.0 1761.4 L975.0 1753.2 L976.0 1761.5 L977.0 1755.5 L978.0 1750.5 L979.0 1754.7 L980.0 1761.8 L981.0 1754.7 L982.0 1754.3 L983.0 1751.8 L984.0 1755.6 L985.0 1752.0 L986.0 1751.1 L987.0 1759.7 L988.0 1761.5 L989.0 1756.1 L990.0 1763.1 L991.0 1757.2 L992.0 1756.8 L993.0 1756.6 L994.0 1761.8 L995.0 1757.4 L996.0 1756.5 L997.0 1755.5 L998.0 1758.7 L999.0 1760.4 L1000.0 1758.8 L1001.0 1765.3 L1002.0 1753.7 L1003.0 1758.7 L1004.0 1753.9 L1005.0 1757.2 L1006.0 1763.1 L1007.0 1764.4 L1008.0 1755.9 L1009.0 1759.8 L1010.0 1754.7 L1011.0 1752.4 L1012.0 1752.3 L1013.0 1759.8 L1014.0 1759.4 L1015.0 1762.7 L1016.0 1761.9 L1017.0 1755.0 L1018.0 1753.6 L1019.0 1762.3 L1020.0 1756.1 L1021.0 1763.3 L1022.0 1760.4 L1023.0 1763.7 L1024.0 1755.5 L1025.0 1757.7 L1026.0 1764.3 L1027.0 1754.5 L1028.0 1759.3 L1029.0 1758.2 L1030.0 1764.2 L1031.0 1754.5 L1032.0 1759.9 L1033.0 1753.5 L1034.0 1756.7 L1035.0 1755.2 L1036.0 1752.6 L1037.0 1760.0 L1038.0 1756.8 L1039.0 1760.8 L1040.0 1763.2 L1041.0 1754.3 L1042.0 1764.7 L1043.0 1765.6 L1044.0 1759.0 L1045.0 1753.4 L1046.0 1755.7 L1047.0 1753.4 L1048.0 1753.8 L1049.0 1754.7 L1050.0 1757.6 L1051.0 1752.4 L1052.0 1763.0 L1053.0 1757.6 L1054.0 1755.3 L1055.0 1752.9 L1056.0 1760.0 L1057.0 1763.0 L1058.0 1763.5 L1059.0 1760.7 L1060.0 1759.8 L1061.0 1753.5 L1062.0 1757.9 L1063.0 1765.0 L1064.0 1755.3 L1065.0 1763.2 L1066.0 1761.2 L1067.0 1761.8 L1068.0 1759.7 L1069.0 1759.0 L1070.0 1763.6 L1071.0 1763.2 L1072.0 1760.8 L1073.0 1754.7 L1074.0 1759.9 L1075.0 1757.7 L1076.0 1755.7 L1077.0 1760.8 L1078.0 1759.3 L1079.0 1766.2 L1080.0 1758.0 L1081.0 1764.5 L1082.0 1756.1 L1083.0 1760.6 L1084.0 1758.3 L1085.0 1754.4 L1086.0 1755.1 L1087.0 1760.4 L1088.0 1763.7 L1089.0 1754.0 L1090.0 1755.8 L1091.0 1762.8 L1092.0 1760.7 L1093.0 1761.0 L1094.0 1759.2 L1095.0 1755.6 L1096.0 1758.3 L1097.0 1753.0 L1098.0 1762.0 L1099.0 1752.2 L1100.0 1752.7 L1101.0 1758.5 L1102.0 1753.5 L1103.0 1756.3 L1104.0 1761.3 L1105.0 1757.6 L1106.0 1760.6 L1107.0 1756.2 L1108.0 1764.4 L1109.0 1754.8 L1110.0 1761.2 L1111.0 1756.9 L1112.0 1759.5 L1113.0 1758.6 L1114.0 1755.1 L1115.0 1765.5 L1116.0 1762.2 L1117.0 1763.1 L1118.0 1754.1 L1119.0 1761.4 L1120.0 1760.8 L1121.0 1755.9 L1122.0 1754.9 L1123.0 1761.8 L1124.0 1759.1 L1125.0 1758.7 L1126.0 1765.0 L1127.0 1764.6 L1128.0 1757.3 L1129.0 1763.0 L1130.0 1754.9 L1131.0 1757.6 L1132.0 1754.4 L1133.0 1761.4 L1134.0 1756.0 L1135.0 1759.2 L1136.0 1757.0 L1137.0 1756.1 L1138.0 1761.6 L1139.0 1756.0 L1140.0 1760.1 L1141.0 1759.6 L1142.0 1763.2 L1143.0 1755.6 L1144.0 1755.1 L1145.0 1761.8 L1146.0 1758.0 L1147.0 1762.6 L1148.0 1757.7 L1149.0 1755.7 L1150.0 1764.6 L1151.0 1763.2 L1152.0 1765.7 L1153.0 1766.1 L1154.0 1757.9 L1155.0 1756.9 L1156.0 1758.7 L1157.0 1759.0 L1158.0 1764.3 L1159.0 1763.4 L1160.0 1758.6 L1161.0 1763.3 L1162.0 1760.1 L1163.0 1765.8 L1164.0 1764.6 L1165.0 1757.0" fill="none" stroke="#1c76ee" stroke-width="5" stroke-linejoin="round"/>
</g>
<path d="M350.0 34.0V49.6M350.0 75.8V104.3M350.0 130.5V159.0M350.0 185.2V213.7M350.0 239.9V268.4M350.0 294.5V323.0M350.0 349.2V377.7M350.0 403.9V432.4M350.0 458.6V487.1M350.0 513.3V541.8M350.0 568.0V596.5M350.0 622.7V651.2M350.0 677.4V705.9M350.0 732.1V760.6M350.0 786.8V815.3M350.0 841.5V870.0M350.0 896.1V924.6M350.0 950.8V979.3M350.0 1005.5V1034.0M350.0 1060.2V1088.7M350.0 1114.9V1143.4M350.0 1169.6V1198.1M350.0 1224.3V1252.8M350.0 1279.0V1307.5M350.0 1333.7V1362.2M350.0 1388.4V1416.9M350.0 1443.0V1471.5M350.0 1497.7V1526.2M350.0 1552.4V1580.9M350.0 1607.1V1635.6M350.0 1661.8V1690.3M350.0 1716.5V1745.0M350.0 1771.2V1799.7M350.0 1825.9V1854.4M350.0 1880.6V1904.7" stroke="#000" stroke-width="5" fill="none"/>
<path d="M408.5 34.0V48.0M408.5 74.2V102.7M408.5 128.8V157.3M408.5 183.5V212.0M408.5 238.1V266.6M408.5 292.8V321.3M408.5 347.4V375.9M408.5 402.1V430.6M408.5 456.7V485.2M408.5 511.4V539.9M408.5 566.0V594.5M408.5 620.6V649.1M408.5 675.3V703.8M408.5 729.9V758.4M408.5 784.6V813.1M408.5 839.2V867.7M408.5 893.9V922.4M408.5 948.5V977.0M408.5 1003.2V1031.7M408.5 1057.8V1086.3M408.5 1112.4V1140.9M408.5 1167.1V1195.6M408.5 1221.7V1250.2M408.5 1276.4V1304.9M408.5 1331.0V1359.5M408.5 1385.7V1414.2M408.5 1440.3V1468.8M408.5 1495.0V1523.5M408.5 1549.6V1578.1M408.5 1604.3V1632.8M408.5 1658.9V1687.4M408.5 1713.5V1742.0M408.5 1768.2V1796.7M408.5 1822.8V1851.3M408.5 1877.5V1904.7" stroke="#f00" stroke-width="5" fill="none"/>
<path d="M845.1 52.8V81.3M845.1 107.8V136.3M845.1 162.8V191.3M845.1 217.8V246.3M845.1 272.8V301.3M845.1 513.0V541.5M845.1 567.7V596.2M845.1 622.4V650.9M845.1 677.1V705.6M845.1 731.8V760.3M845.1 786.5V815.0M845.1 841.2V869.7M845.1 895.9V924.4M845.1 950.6V979.1M845.1 1005.3V1033.8M845.1 1060.0V1088.5M845.1 1114.7V1143.2M845.1 1169.4V1197.9M845.1 1224.1V1252.6M845.1 1278.8V1307.3M845.1 1333.5V1362.0M845.1 1388.2V1416.7M845.1 1442.9V1471.4M845.1 1497.6V1526.1M845.1 1552.3V1580.8M845.1 1607.0V1635.5M845.1 1661.7V1690.2M845.1 1716.4V1744.9M845.1 1771.1V1799.6M845.1 1825.8V1854.3M845.1 1880.5V1904.7" stroke="#f00" stroke-width="5" fill="none"/>
<path d="M962.3 52.8V81.3M962.3 107.4V135.9M962.3 162.1V190.6M962.3 216.8V245.2M962.3 271.4V299.9M962.3 515.8V544.3M962.3 570.4V598.9M962.3 625.1V653.6M962.3 679.7V708.2M962.3 734.4V762.9M962.3 789.0V817.5M962.3 843.7V872.2M962.3 898.3V926.8M962.3 953.0V981.5M962.3 1007.6V1036.1M962.3 1062.3V1090.8M962.3 1116.9V1145.4M962.3 1171.6V1200.1M962.3 1226.2V1254.8M962.3 1280.9V1309.4M962.3 1335.6V1364.1M962.3 1390.2V1418.7M962.3 1444.9V1473.4M962.3 1499.5V1528.0M962.3 1554.2V1582.7M962.3 1608.8V1637.3M962.3 1663.5V1692.0M962.3 1718.1V1746.6M962.3 1772.8V1801.3M962.3 1827.4V1855.9M962.3 1882.1V1904.7" stroke="#000" stroke-width="5" fill="none"/>
<rect x="812" y="302" width="330" height="210" fill="#fff"/>
<line x1="824.5" y1="330.7" x2="934.5" y2="330.7" stroke="#525252" stroke-width="7" stroke-linecap="round"/>
<line x1="824.5" y1="392.2" x2="934.5" y2="392.2" stroke="#fa4444" stroke-width="7" stroke-linecap="round"/>
<line x1="824.5" y1="453.7" x2="934.5" y2="453.7" stroke="#1c76ee" stroke-width="7" stroke-linecap="round"/>
<g style="font-family:'Liberation Serif',serif;font-weight:bold"><text transform="translate(944.47,348.00) scale(1.0486,1)" font-size="46.50">W-CPS</text><text transform="translate(943.20,409.40) scale(0.9794,1)" font-size="46.50">E M-CPS</text><text transform="translate(943.14,470.20) scale(1.0526,1)" font-size="46.50">Blank</text></g>
<line x1="374" y1="555.5" x2="934.5" y2="555.5" stroke="#000" stroke-width="4.5"/>
<path d="M345 555.5L376 545.5L376 565.5Z" fill="#000"/>
<path d="M963.5 555.5L932.5 545.5L932.5 565.5Z" fill="#000"/>
<line x1="430.5" y1="604.2" x2="814.5" y2="604.2" stroke="#f00" stroke-width="4.5"/>
<path d="M400.5 604.2L432.5 595.2L432.5 613.2Z" fill="#f00"/>
<path d="M844.5 604.2L812.5 595.2L812.5 613.2Z" fill="#f00"/>
<ellipse cx="410.5" cy="1018" rx="54.5" ry="208" fill="none" stroke="#ff8c00" stroke-width="5.5" stroke-dasharray="8 5 4 5"/>
<rect x="179.9" y="31.5" width="1085.3999999999999" height="1875.7" fill="none" stroke="#000" stroke-width="5"/>
<line x1="179.9" y1="656.8" x2="1265.3" y2="656.8" stroke="#000" stroke-width="5"/>
<line x1="179.9" y1="1282.0" x2="1265.3" y2="1282.0" stroke="#000" stroke-width="5"/>
<path d="M280.8 656.8V640.3M379.2 656.8V647.3M477.6 656.8V640.3M576.0 656.8V647.3M674.4 656.8V640.3M772.9 656.8V647.3M871.3 656.8V640.3M969.7 656.8V647.3M1068.1 656.8V640.3M1166.5 656.8V647.3M280.8 1282.0V1265.5M379.2 1282.0V1272.5M477.6 1282.0V1265.5M576.0 1282.0V1272.5M674.4 1282.0V1265.5M772.9 1282.0V1272.5M871.3 1282.0V1265.5M969.7 1282.0V1272.5M1068.1 1282.0V1265.5M1166.5 1282.0V1272.5M280.8 1907.2V1890.7M379.2 1907.2V1897.7M477.6 1907.2V1890.7M576.0 1907.2V1897.7M674.4 1907.2V1890.7M772.9 1907.2V1897.7M871.3 1907.2V1890.7M969.7 1907.2V1897.7M1068.1 1907.2V1890.7M1166.5 1907.2V1897.7M179.9 624.7H196.4M179.9 558.9H189.4M179.9 493.0H196.4M179.9 427.2H189.4M179.9 361.3H196.4M179.9 295.5H189.4M179.9 229.7H196.4M179.9 163.8H189.4M179.9 98.0H196.4M179.9 1234.1H196.4M179.9 1186.0H189.4M179.9 1137.8H196.4M179.9 1089.7H189.4M179.9 1041.6H196.4M179.9 993.4H189.4M179.9 945.3H196.4M179.9 897.2H189.4M179.9 849.1H196.4M179.9 800.9H189.4M179.9 752.8H196.4M179.9 704.7H189.4M179.9 1880.5H196.4M179.9 1826.2H189.4M179.9 1772.0H196.4M179.9 1717.8H189.4M179.9 1663.5H196.4M179.9 1609.2H189.4M179.9 1555.0H196.4M179.9 1500.8H189.4M179.9 1446.5H196.4M179.9 1392.2H189.4M179.9 1338.0H196.4" stroke="#000" stroke-width="5" fill="none"/>
<g style="font-family:'Liberation Serif',serif;font-weight:bold"><text transform="translate(137.80,638.02) scale(1.0900,1)" font-size="47.40">0</text><text transform="translate(86.14,506.34) scale(1.0900,1)" font-size="47.40">200</text><text transform="translate(86.14,374.66) scale(1.0900,1)" font-size="47.40">400</text><text transform="translate(86.14,242.98) scale(1.0900,1)" font-size="47.40">600</text><text transform="translate(86.14,111.30) scale(1.0900,1)" font-size="47.40">800</text><text transform="translate(137.16,1246.75) scale(1.0830,1)" font-size="49.00">0</text><text transform="translate(137.95,1150.61) scale(1.0830,1)" font-size="49.00">1</text><text transform="translate(137.42,1054.41) scale(1.0830,1)" font-size="49.00">2</text><text transform="translate(137.02,957.91) scale(1.0830,1)" font-size="49.00">3</text><text transform="translate(136.10,861.77) scale(1.0830,1)" font-size="49.00">4</text><text transform="translate(137.16,765.20) scale(1.0830,1)" font-size="49.00">5</text><text transform="translate(137.31,1893.14) scale(1.1150,1)" font-size="47.30">0</text><text transform="translate(137.57,1784.82) scale(1.1150,1)" font-size="47.30">2</text><text transform="translate(136.25,1676.20) scale(1.1150,1)" font-size="47.30">4</text><text transform="translate(136.91,1567.58) scale(1.1150,1)" font-size="47.30">6</text><text transform="translate(137.04,1459.14) scale(1.1150,1)" font-size="47.30">8</text><text transform="translate(110.94,1350.64) scale(1.1150,1)" font-size="47.30">10</text><text transform="translate(264.77,1960.00) scale(1.1000,1)" font-size="48.10">0</text><text transform="translate(437.54,1960.00) scale(1.0300,1)" font-size="48.10">200</text><text transform="translate(635.10,1960.00) scale(1.0300,1)" font-size="48.10">400</text><text transform="translate(831.36,1960.00) scale(1.0300,1)" font-size="48.10">600</text><text transform="translate(1028.25,1960.00) scale(1.0300,1)" font-size="48.10">800</text><text transform="translate(1216.18,1960.00) scale(1.0000,1)" font-size="48.10">1000</text><text transform="translate(202.55,105.67) scale(1.0250,1)" font-size="66.20">(a)</text><text transform="translate(202.62,727.44) scale(1.0220,1)" font-size="64.90">(b)</text><text transform="translate(205.52,1345.14) scale(1.0560,1)" font-size="64.90">(c)</text><text transform="translate(65.90,472.00) rotate(-90) scale(0.9811,1)" font-size="54.66">Temperature/</text><text transform="translate(48.6,158.7) rotate(-90)" font-size="38">o</text><text transform="translate(65.90,142.46) rotate(-90) scale(1.0455,1)" font-size="54.66">C</text><text transform="translate(70.70,1235.22) rotate(-90) scale(0.9616,1)" font-size="54.66">Li 670.78nm Intensity/a.u.</text><text transform="translate(73.00,1913.56) rotate(-90) scale(0.9962,1)" font-size="56.36">Ar 763.51nm Intensity/a.u.</text><text transform="translate(649.60,2045.20) scale(1.0100,1)" font-size="52.52">Tim<tspan dx="3">e</tspan><tspan dx="-6">/</tspan>s</text></g>
</svg></body></html>
